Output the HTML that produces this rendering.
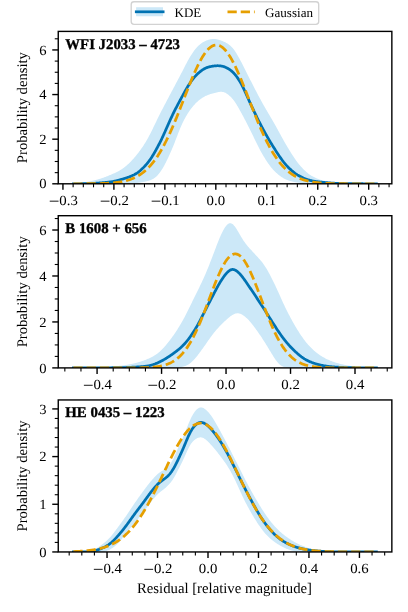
<!DOCTYPE html>
<html><head><meta charset="utf-8"><title>KDE vs Gaussian</title>
<style>html,body{margin:0;padding:0;background:#fff;}body{width:408px;height:612px;overflow:hidden;font-family:"Liberation Serif",serif;}svg text{font-family:"Liberation Serif",serif;}</style></head>
<body>
<svg width="408" height="612" viewBox="0 0 408 612" style="display:block;will-change:transform">
<rect width="408" height="612" fill="#fff"/>
<defs>
<clipPath id="c0"><rect x="58.25" y="31.4" width="333.6" height="152.40"/></clipPath>
<clipPath id="c1"><rect x="58.25" y="215.7" width="333.6" height="152.20"/></clipPath>
<clipPath id="c2"><rect x="58.25" y="399.95" width="333.6" height="152.00"/></clipPath>
</defs>
<g clip-path="url(#c0)">
<path d="M73.40,183.69 L73.90,183.66 L74.40,183.64 L74.90,183.60 L75.40,183.57 L75.90,183.53 L76.40,183.48 L76.90,183.44 L77.40,183.39 L77.90,183.33 L78.40,183.28 L78.90,183.22 L79.40,183.16 L79.90,183.10 L80.40,183.03 L80.90,182.96 L81.40,182.89 L81.90,182.82 L82.40,182.75 L82.90,182.67 L83.40,182.59 L83.90,182.51 L84.40,182.42 L84.90,182.33 L85.40,182.24 L85.90,182.15 L86.40,182.06 L86.90,181.96 L87.40,181.87 L87.90,181.77 L88.40,181.66 L88.90,181.56 L89.40,181.46 L89.90,181.35 L90.40,181.25 L90.90,181.14 L91.40,181.03 L91.90,180.92 L92.40,180.80 L92.90,180.69 L93.40,180.57 L93.90,180.45 L94.40,180.33 L94.90,180.21 L95.40,180.08 L95.90,179.95 L96.40,179.82 L96.90,179.68 L97.40,179.55 L97.90,179.40 L98.40,179.26 L98.90,179.11 L99.40,178.96 L99.90,178.80 L100.40,178.65 L100.90,178.49 L101.40,178.32 L101.90,178.15 L102.40,177.98 L102.90,177.81 L103.40,177.63 L103.90,177.45 L104.40,177.27 L104.90,177.09 L105.40,176.90 L105.90,176.71 L106.40,176.52 L106.90,176.33 L107.40,176.13 L107.90,175.93 L108.40,175.73 L108.90,175.53 L109.40,175.33 L109.90,175.12 L110.40,174.91 L110.90,174.70 L111.40,174.49 L111.90,174.27 L112.40,174.06 L112.90,173.84 L113.40,173.62 L113.90,173.39 L114.40,173.16 L114.90,172.93 L115.40,172.69 L115.90,172.45 L116.40,172.21 L116.90,171.96 L117.40,171.71 L117.90,171.45 L118.40,171.18 L118.90,170.91 L119.40,170.63 L119.90,170.34 L120.40,170.05 L120.90,169.74 L121.40,169.43 L121.90,169.11 L122.40,168.77 L122.90,168.43 L123.40,168.08 L123.90,167.71 L124.40,167.33 L124.90,166.94 L125.40,166.54 L125.90,166.12 L126.40,165.70 L126.90,165.26 L127.40,164.81 L127.90,164.35 L128.40,163.88 L128.90,163.40 L129.40,162.92 L129.90,162.42 L130.40,161.91 L130.90,161.40 L131.40,160.88 L131.90,160.35 L132.40,159.82 L132.90,159.27 L133.40,158.72 L133.90,158.16 L134.40,157.59 L134.90,157.01 L135.40,156.42 L135.90,155.82 L136.40,155.22 L136.90,154.60 L137.40,153.97 L137.90,153.33 L138.40,152.69 L138.90,152.03 L139.40,151.36 L139.90,150.68 L140.40,150.00 L140.90,149.30 L141.40,148.59 L141.90,147.87 L142.40,147.13 L142.90,146.39 L143.40,145.64 L143.90,144.87 L144.40,144.08 L144.90,143.29 L145.40,142.48 L145.90,141.65 L146.40,140.80 L146.90,139.94 L147.40,139.06 L147.90,138.17 L148.40,137.25 L148.90,136.32 L149.40,135.37 L149.90,134.41 L150.40,133.43 L150.90,132.45 L151.40,131.45 L151.90,130.43 L152.40,129.42 L152.90,128.39 L153.40,127.36 L153.90,126.32 L154.40,125.28 L154.90,124.24 L155.40,123.20 L155.90,122.17 L156.40,121.13 L156.90,120.10 L157.40,119.07 L157.90,118.05 L158.40,117.04 L158.90,116.03 L159.40,115.03 L159.90,114.03 L160.40,113.05 L160.90,112.06 L161.40,111.09 L161.90,110.11 L162.40,109.14 L162.90,108.18 L163.40,107.22 L163.90,106.26 L164.40,105.30 L164.90,104.34 L165.40,103.39 L165.90,102.44 L166.40,101.49 L166.90,100.54 L167.40,99.59 L167.90,98.64 L168.40,97.69 L168.90,96.75 L169.40,95.80 L169.90,94.86 L170.40,93.92 L170.90,92.97 L171.40,92.03 L171.90,91.09 L172.40,90.15 L172.90,89.20 L173.40,88.26 L173.90,87.32 L174.40,86.38 L174.90,85.44 L175.40,84.50 L175.90,83.56 L176.40,82.61 L176.90,81.67 L177.40,80.73 L177.90,79.78 L178.40,78.83 L178.90,77.89 L179.40,76.94 L179.90,75.98 L180.40,75.03 L180.90,74.07 L181.40,73.11 L181.90,72.14 L182.40,71.17 L182.90,70.20 L183.40,69.22 L183.90,68.24 L184.40,67.26 L184.90,66.29 L185.40,65.31 L185.90,64.35 L186.40,63.39 L186.90,62.44 L187.40,61.51 L187.90,60.59 L188.40,59.69 L188.90,58.81 L189.40,57.95 L189.90,57.10 L190.40,56.28 L190.90,55.47 L191.40,54.69 L191.90,53.92 L192.40,53.17 L192.90,52.44 L193.40,51.73 L193.90,51.04 L194.40,50.37 L194.90,49.72 L195.40,49.09 L195.90,48.49 L196.40,47.91 L196.90,47.35 L197.40,46.81 L197.90,46.30 L198.40,45.81 L198.90,45.35 L199.40,44.90 L199.90,44.48 L200.40,44.07 L200.90,43.68 L201.40,43.31 L201.90,42.96 L202.40,42.62 L202.90,42.30 L203.40,42.00 L203.90,41.71 L204.40,41.44 L204.90,41.19 L205.40,40.95 L205.90,40.73 L206.40,40.52 L206.90,40.33 L207.40,40.15 L207.90,39.98 L208.40,39.83 L208.90,39.69 L209.40,39.56 L209.90,39.45 L210.40,39.34 L210.90,39.25 L211.40,39.17 L211.90,39.11 L212.40,39.06 L212.90,39.03 L213.40,39.01 L213.90,39.01 L214.40,39.03 L214.90,39.06 L215.40,39.10 L215.90,39.17 L216.40,39.24 L216.90,39.33 L217.40,39.44 L217.90,39.56 L218.40,39.68 L218.90,39.82 L219.40,39.97 L219.90,40.13 L220.40,40.29 L220.90,40.46 L221.40,40.64 L221.90,40.83 L222.40,41.02 L222.90,41.23 L223.40,41.44 L223.90,41.65 L224.40,41.88 L224.90,42.12 L225.40,42.37 L225.90,42.63 L226.40,42.91 L226.90,43.20 L227.40,43.50 L227.90,43.82 L228.40,44.16 L228.90,44.52 L229.40,44.90 L229.90,45.30 L230.40,45.73 L230.90,46.18 L231.40,46.67 L231.90,47.18 L232.40,47.73 L232.90,48.31 L233.40,48.93 L233.90,49.58 L234.40,50.27 L234.90,51.00 L235.40,51.76 L235.90,52.54 L236.40,53.35 L236.90,54.19 L237.40,55.05 L237.90,55.92 L238.40,56.80 L238.90,57.70 L239.40,58.61 L239.90,59.53 L240.40,60.46 L240.90,61.39 L241.40,62.33 L241.90,63.28 L242.40,64.24 L242.90,65.20 L243.40,66.18 L243.90,67.16 L244.40,68.15 L244.90,69.14 L245.40,70.14 L245.90,71.14 L246.40,72.14 L246.90,73.15 L247.40,74.15 L247.90,75.15 L248.40,76.15 L248.90,77.15 L249.40,78.15 L249.90,79.14 L250.40,80.13 L250.90,81.12 L251.40,82.10 L251.90,83.08 L252.40,84.06 L252.90,85.04 L253.40,86.01 L253.90,86.99 L254.40,87.96 L254.90,88.93 L255.40,89.89 L255.90,90.86 L256.40,91.82 L256.90,92.78 L257.40,93.73 L257.90,94.68 L258.40,95.63 L258.90,96.57 L259.40,97.50 L259.90,98.44 L260.40,99.36 L260.90,100.28 L261.40,101.19 L261.90,102.10 L262.40,103.00 L262.90,103.89 L263.40,104.78 L263.90,105.67 L264.40,106.54 L264.90,107.41 L265.40,108.28 L265.90,109.14 L266.40,110.00 L266.90,110.85 L267.40,111.70 L267.90,112.55 L268.40,113.40 L268.90,114.25 L269.40,115.09 L269.90,115.94 L270.40,116.79 L270.90,117.64 L271.40,118.49 L271.90,119.35 L272.40,120.21 L272.90,121.07 L273.40,121.94 L273.90,122.81 L274.40,123.69 L274.90,124.58 L275.40,125.46 L275.90,126.36 L276.40,127.26 L276.90,128.16 L277.40,129.07 L277.90,129.98 L278.40,130.90 L278.90,131.82 L279.40,132.73 L279.90,133.65 L280.40,134.57 L280.90,135.48 L281.40,136.40 L281.90,137.31 L282.40,138.21 L282.90,139.11 L283.40,140.01 L283.90,140.90 L284.40,141.78 L284.90,142.65 L285.40,143.52 L285.90,144.38 L286.40,145.23 L286.90,146.08 L287.40,146.92 L287.90,147.76 L288.40,148.59 L288.90,149.42 L289.40,150.24 L289.90,151.05 L290.40,151.87 L290.90,152.67 L291.40,153.47 L291.90,154.27 L292.40,155.05 L292.90,155.83 L293.40,156.60 L293.90,157.36 L294.40,158.10 L294.90,158.83 L295.40,159.55 L295.90,160.26 L296.40,160.95 L296.90,161.62 L297.40,162.28 L297.90,162.93 L298.40,163.56 L298.90,164.17 L299.40,164.77 L299.90,165.36 L300.40,165.93 L300.90,166.50 L301.40,167.05 L301.90,167.59 L302.40,168.12 L302.90,168.64 L303.40,169.15 L303.90,169.65 L304.40,170.14 L304.90,170.62 L305.40,171.09 L305.90,171.55 L306.40,171.99 L306.90,172.43 L307.40,172.85 L307.90,173.26 L308.40,173.65 L308.90,174.03 L309.40,174.39 L309.90,174.74 L310.40,175.08 L310.90,175.40 L311.40,175.71 L311.90,176.01 L312.40,176.29 L312.90,176.57 L313.40,176.83 L313.90,177.08 L314.40,177.33 L314.90,177.57 L315.40,177.80 L315.90,178.02 L316.40,178.24 L316.90,178.45 L317.40,178.65 L317.90,178.84 L318.40,179.03 L318.90,179.22 L319.40,179.40 L319.90,179.57 L320.40,179.73 L320.90,179.89 L321.40,180.04 L321.90,180.18 L322.40,180.32 L322.90,180.45 L323.40,180.58 L323.90,180.70 L324.40,180.81 L324.90,180.92 L325.40,181.03 L325.90,181.13 L326.40,181.23 L326.90,181.32 L327.40,181.41 L327.90,181.50 L328.40,181.58 L328.90,181.66 L329.40,181.74 L329.90,181.82 L330.40,181.89 L330.90,181.96 L331.40,182.03 L331.90,182.10 L332.40,182.16 L332.90,182.22 L333.40,182.29 L333.90,182.34 L334.40,182.40 L334.90,182.46 L335.40,182.51 L335.90,182.56 L336.40,182.61 L336.90,182.66 L337.40,182.71 L337.90,182.76 L338.40,182.81 L338.90,182.85 L339.40,182.90 L339.90,182.94 L340.40,182.99 L340.90,183.03 L341.40,183.07 L341.90,183.11 L342.40,183.15 L342.90,183.19 L343.40,183.23 L343.90,183.27 L344.40,183.30 L344.90,183.33 L345.40,183.36 L345.90,183.39 L346.40,183.42 L346.90,183.44 L347.40,183.47 L347.90,183.49 L348.40,183.51 L348.90,183.53 L349.40,183.54 L349.90,183.56 L350.40,183.57 L350.90,183.58 L351.40,183.59 L351.90,183.60 L352.40,183.61 L352.90,183.62 L353.40,183.63 L353.90,183.63 L354.40,183.64 L354.90,183.65 L355.40,183.65 L355.90,183.66 L356.40,183.67 L356.90,183.67 L357.40,183.68 L357.90,183.69 L358.40,183.69 L358.90,183.70 L359.40,183.70 L359.90,183.71 L360.40,183.71 L360.90,183.72 L361.40,183.72 L361.90,183.73 L362.40,183.73 L362.90,183.74 L363.40,183.74 L363.90,183.74 L364.40,183.75 L364.90,183.75 L365.40,183.76 L365.90,183.76 L366.40,183.76 L366.90,183.77 L367.40,183.77 L367.90,183.77 L368.40,183.77 L368.90,183.78 L369.40,183.78 L369.90,183.78 L370.40,183.78 L370.90,183.79 L371.40,183.79 L371.90,183.79 L372.40,183.79 L372.90,183.79 L373.40,183.79 L373.90,183.80 L374.40,183.80 L374.90,183.80 L375.40,183.80 L375.90,183.80 L376.40,183.80 L376.40,183.80 L375.90,183.80 L375.40,183.80 L374.90,183.80 L374.40,183.80 L373.90,183.80 L373.40,183.80 L372.90,183.80 L372.40,183.80 L371.90,183.80 L371.40,183.80 L370.90,183.80 L370.40,183.80 L369.90,183.80 L369.40,183.80 L368.90,183.80 L368.40,183.80 L367.90,183.80 L367.40,183.80 L366.90,183.80 L366.40,183.80 L365.90,183.80 L365.40,183.80 L364.90,183.80 L364.40,183.80 L363.90,183.80 L363.40,183.80 L362.90,183.80 L362.40,183.80 L361.90,183.80 L361.40,183.80 L360.90,183.80 L360.40,183.80 L359.90,183.80 L359.40,183.80 L358.90,183.80 L358.40,183.80 L357.90,183.80 L357.40,183.80 L356.90,183.80 L356.40,183.80 L355.90,183.80 L355.40,183.80 L354.90,183.80 L354.40,183.80 L353.90,183.80 L353.40,183.80 L352.90,183.80 L352.40,183.80 L351.90,183.80 L351.40,183.80 L350.90,183.80 L350.40,183.80 L349.90,183.80 L349.40,183.80 L348.90,183.80 L348.40,183.80 L347.90,183.80 L347.40,183.80 L346.90,183.80 L346.40,183.80 L345.90,183.80 L345.40,183.80 L344.90,183.80 L344.40,183.80 L343.90,183.80 L343.40,183.80 L342.90,183.80 L342.40,183.80 L341.90,183.80 L341.40,183.80 L340.90,183.80 L340.40,183.80 L339.90,183.80 L339.40,183.80 L338.90,183.80 L338.40,183.80 L337.90,183.80 L337.40,183.80 L336.90,183.80 L336.40,183.80 L335.90,183.80 L335.40,183.80 L334.90,183.80 L334.40,183.80 L333.90,183.80 L333.40,183.80 L332.90,183.80 L332.40,183.80 L331.90,183.80 L331.40,183.80 L330.90,183.80 L330.40,183.80 L329.90,183.80 L329.40,183.80 L328.90,183.80 L328.40,183.80 L327.90,183.80 L327.40,183.80 L326.90,183.80 L326.40,183.80 L325.90,183.80 L325.40,183.80 L324.90,183.80 L324.40,183.80 L323.90,183.80 L323.40,183.80 L322.90,183.80 L322.40,183.80 L321.90,183.80 L321.40,183.80 L320.90,183.80 L320.40,183.80 L319.90,183.80 L319.40,183.80 L318.90,183.80 L318.40,183.80 L317.90,183.80 L317.40,183.80 L316.90,183.80 L316.40,183.80 L315.90,183.80 L315.40,183.80 L314.90,183.80 L314.40,183.80 L313.90,183.79 L313.40,183.79 L312.90,183.79 L312.40,183.78 L311.90,183.77 L311.40,183.77 L310.90,183.76 L310.40,183.74 L309.90,183.73 L309.40,183.71 L308.90,183.69 L308.40,183.66 L307.90,183.64 L307.40,183.61 L306.90,183.58 L306.40,183.54 L305.90,183.51 L305.40,183.47 L304.90,183.43 L304.40,183.39 L303.90,183.34 L303.40,183.30 L302.90,183.25 L302.40,183.20 L301.90,183.15 L301.40,183.09 L300.90,183.04 L300.40,182.98 L299.90,182.92 L299.40,182.86 L298.90,182.79 L298.40,182.72 L297.90,182.65 L297.40,182.58 L296.90,182.50 L296.40,182.41 L295.90,182.32 L295.40,182.23 L294.90,182.13 L294.40,182.03 L293.90,181.92 L293.40,181.81 L292.90,181.69 L292.40,181.57 L291.90,181.44 L291.40,181.31 L290.90,181.17 L290.40,181.03 L289.90,180.88 L289.40,180.72 L288.90,180.56 L288.40,180.39 L287.90,180.21 L287.40,180.03 L286.90,179.83 L286.40,179.63 L285.90,179.41 L285.40,179.18 L284.90,178.94 L284.40,178.68 L283.90,178.42 L283.40,178.13 L282.90,177.84 L282.40,177.53 L281.90,177.21 L281.40,176.88 L280.90,176.53 L280.40,176.17 L279.90,175.80 L279.40,175.42 L278.90,175.03 L278.40,174.63 L277.90,174.22 L277.40,173.79 L276.90,173.36 L276.40,172.91 L275.90,172.46 L275.40,171.99 L274.90,171.51 L274.40,171.01 L273.90,170.49 L273.40,169.96 L272.90,169.42 L272.40,168.85 L271.90,168.27 L271.40,167.66 L270.90,167.04 L270.40,166.40 L269.90,165.74 L269.40,165.06 L268.90,164.37 L268.40,163.66 L267.90,162.94 L267.40,162.20 L266.90,161.45 L266.40,160.69 L265.90,159.92 L265.40,159.13 L264.90,158.33 L264.40,157.53 L263.90,156.71 L263.40,155.88 L262.90,155.04 L262.40,154.19 L261.90,153.32 L261.40,152.44 L260.90,151.55 L260.40,150.64 L259.90,149.71 L259.40,148.77 L258.90,147.81 L258.40,146.84 L257.90,145.85 L257.40,144.85 L256.90,143.84 L256.40,142.82 L255.90,141.80 L255.40,140.76 L254.90,139.73 L254.40,138.69 L253.90,137.65 L253.40,136.61 L252.90,135.58 L252.40,134.54 L251.90,133.52 L251.40,132.49 L250.90,131.48 L250.40,130.47 L249.90,129.46 L249.40,128.46 L248.90,127.46 L248.40,126.47 L247.90,125.48 L247.40,124.50 L246.90,123.52 L246.40,122.54 L245.90,121.57 L245.40,120.61 L244.90,119.65 L244.40,118.69 L243.90,117.74 L243.40,116.80 L242.90,115.87 L242.40,114.94 L241.90,114.02 L241.40,113.10 L240.90,112.19 L240.40,111.29 L239.90,110.39 L239.40,109.50 L238.90,108.61 L238.40,107.74 L237.90,106.87 L237.40,106.02 L236.90,105.18 L236.40,104.36 L235.90,103.56 L235.40,102.78 L234.90,102.03 L234.40,101.31 L233.90,100.62 L233.40,99.96 L232.90,99.33 L232.40,98.73 L231.90,98.16 L231.40,97.62 L230.90,97.10 L230.40,96.61 L229.90,96.13 L229.40,95.68 L228.90,95.25 L228.40,94.84 L227.90,94.45 L227.40,94.08 L226.90,93.73 L226.40,93.41 L225.90,93.12 L225.40,92.85 L224.90,92.61 L224.40,92.40 L223.90,92.22 L223.40,92.08 L222.90,91.96 L222.40,91.88 L221.90,91.82 L221.40,91.79 L220.90,91.79 L220.40,91.81 L219.90,91.85 L219.40,91.91 L218.90,91.99 L218.40,92.08 L217.90,92.17 L217.40,92.28 L216.90,92.39 L216.40,92.51 L215.90,92.63 L215.40,92.75 L214.90,92.88 L214.40,93.00 L213.90,93.13 L213.40,93.26 L212.90,93.40 L212.40,93.54 L211.90,93.68 L211.40,93.82 L210.90,93.97 L210.40,94.12 L209.90,94.28 L209.40,94.45 L208.90,94.63 L208.40,94.81 L207.90,95.00 L207.40,95.20 L206.90,95.41 L206.40,95.63 L205.90,95.87 L205.40,96.11 L204.90,96.37 L204.40,96.63 L203.90,96.91 L203.40,97.20 L202.90,97.51 L202.40,97.82 L201.90,98.15 L201.40,98.49 L200.90,98.84 L200.40,99.21 L199.90,99.58 L199.40,99.97 L198.90,100.37 L198.40,100.79 L197.90,101.22 L197.40,101.67 L196.90,102.13 L196.40,102.60 L195.90,103.10 L195.40,103.61 L194.90,104.13 L194.40,104.67 L193.90,105.23 L193.40,105.81 L192.90,106.40 L192.40,107.01 L191.90,107.63 L191.40,108.27 L190.90,108.93 L190.40,109.61 L189.90,110.30 L189.40,111.02 L188.90,111.75 L188.40,112.51 L187.90,113.29 L187.40,114.09 L186.90,114.91 L186.40,115.75 L185.90,116.62 L185.40,117.50 L184.90,118.42 L184.40,119.35 L183.90,120.31 L183.40,121.30 L182.90,122.32 L182.40,123.37 L181.90,124.44 L181.40,125.55 L180.90,126.69 L180.40,127.86 L179.90,129.06 L179.40,130.29 L178.90,131.54 L178.40,132.81 L177.90,134.09 L177.40,135.39 L176.90,136.70 L176.40,138.01 L175.90,139.31 L175.40,140.61 L174.90,141.90 L174.40,143.17 L173.90,144.42 L173.40,145.66 L172.90,146.88 L172.40,148.08 L171.90,149.27 L171.40,150.44 L170.90,151.59 L170.40,152.73 L169.90,153.86 L169.40,154.97 L168.90,156.07 L168.40,157.16 L167.90,158.24 L167.40,159.30 L166.90,160.34 L166.40,161.37 L165.90,162.38 L165.40,163.36 L164.90,164.33 L164.40,165.27 L163.90,166.18 L163.40,167.06 L162.90,167.92 L162.40,168.75 L161.90,169.54 L161.40,170.31 L160.90,171.05 L160.40,171.76 L159.90,172.43 L159.40,173.09 L158.90,173.71 L158.40,174.31 L157.90,174.88 L157.40,175.42 L156.90,175.94 L156.40,176.43 L155.90,176.89 L155.40,177.32 L154.90,177.72 L154.40,178.10 L153.90,178.44 L153.40,178.76 L152.90,179.05 L152.40,179.32 L151.90,179.57 L151.40,179.79 L150.90,180.00 L150.40,180.19 L149.90,180.37 L149.40,180.53 L148.90,180.69 L148.40,180.83 L147.90,180.97 L147.40,181.09 L146.90,181.22 L146.40,181.33 L145.90,181.44 L145.40,181.55 L144.90,181.66 L144.40,181.76 L143.90,181.86 L143.40,181.95 L142.90,182.04 L142.40,182.13 L141.90,182.22 L141.40,182.31 L140.90,182.39 L140.40,182.47 L139.90,182.55 L139.40,182.63 L138.90,182.70 L138.40,182.77 L137.90,182.84 L137.40,182.90 L136.90,182.96 L136.40,183.02 L135.90,183.07 L135.40,183.12 L134.90,183.17 L134.40,183.21 L133.90,183.26 L133.40,183.29 L132.90,183.33 L132.40,183.36 L131.90,183.40 L131.40,183.43 L130.90,183.45 L130.40,183.48 L129.90,183.51 L129.40,183.53 L128.90,183.56 L128.40,183.58 L127.90,183.60 L127.40,183.62 L126.90,183.64 L126.40,183.66 L125.90,183.67 L125.40,183.69 L124.90,183.71 L124.40,183.72 L123.90,183.73 L123.40,183.74 L122.90,183.75 L122.40,183.76 L121.90,183.77 L121.40,183.78 L120.90,183.78 L120.40,183.79 L119.90,183.79 L119.40,183.79 L118.90,183.80 L118.40,183.80 L117.90,183.80 L117.40,183.80 L116.90,183.80 L116.40,183.80 L115.90,183.80 L115.40,183.80 L114.90,183.80 L114.40,183.80 L113.90,183.80 L113.40,183.80 L112.90,183.80 L112.40,183.80 L111.90,183.80 L111.40,183.80 L110.90,183.80 L110.40,183.80 L109.90,183.80 L109.40,183.80 L108.90,183.80 L108.40,183.80 L107.90,183.80 L107.40,183.80 L106.90,183.80 L106.40,183.80 L105.90,183.80 L105.40,183.80 L104.90,183.80 L104.40,183.80 L103.90,183.80 L103.40,183.80 L102.90,183.80 L102.40,183.80 L101.90,183.80 L101.40,183.80 L100.90,183.80 L100.40,183.80 L99.90,183.80 L99.40,183.80 L98.90,183.80 L98.40,183.80 L97.90,183.80 L97.40,183.80 L96.90,183.80 L96.40,183.80 L95.90,183.80 L95.40,183.80 L94.90,183.80 L94.40,183.80 L93.90,183.80 L93.40,183.80 L92.90,183.80 L92.40,183.80 L91.90,183.80 L91.40,183.80 L90.90,183.80 L90.40,183.80 L89.90,183.80 L89.40,183.80 L88.90,183.80 L88.40,183.80 L87.90,183.80 L87.40,183.80 L86.90,183.80 L86.40,183.80 L85.90,183.80 L85.40,183.80 L84.90,183.80 L84.40,183.80 L83.90,183.80 L83.40,183.80 L82.90,183.80 L82.40,183.80 L81.90,183.80 L81.40,183.80 L80.90,183.80 L80.40,183.80 L79.90,183.80 L79.40,183.80 L78.90,183.80 L78.40,183.80 L77.90,183.80 L77.40,183.80 L76.90,183.80 L76.40,183.80 L75.90,183.80 L75.40,183.80 L74.90,183.80 L74.40,183.80 L73.90,183.80 L73.40,183.80Z" fill="#cce8f8"/>
<path d="M73.40,183.80 L73.90,183.80 L74.40,183.79 L74.90,183.79 L75.40,183.79 L75.90,183.79 L76.40,183.78 L76.90,183.78 L77.40,183.78 L77.90,183.77 L78.40,183.77 L78.90,183.76 L79.40,183.76 L79.90,183.75 L80.40,183.75 L80.90,183.74 L81.40,183.74 L81.90,183.73 L82.40,183.72 L82.90,183.71 L83.40,183.71 L83.90,183.70 L84.40,183.69 L84.90,183.68 L85.40,183.67 L85.90,183.66 L86.40,183.65 L86.90,183.64 L87.40,183.63 L87.90,183.62 L88.40,183.60 L88.90,183.59 L89.40,183.58 L89.90,183.56 L90.40,183.54 L90.90,183.52 L91.40,183.50 L91.90,183.48 L92.40,183.45 L92.90,183.42 L93.40,183.40 L93.90,183.37 L94.40,183.33 L94.90,183.30 L95.40,183.26 L95.90,183.23 L96.40,183.19 L96.90,183.15 L97.40,183.11 L97.90,183.08 L98.40,183.04 L98.90,183.00 L99.40,182.96 L99.90,182.92 L100.40,182.88 L100.90,182.84 L101.40,182.80 L101.90,182.76 L102.40,182.72 L102.90,182.68 L103.40,182.64 L103.90,182.60 L104.40,182.56 L104.90,182.52 L105.40,182.47 L105.90,182.43 L106.40,182.38 L106.90,182.33 L107.40,182.28 L107.90,182.22 L108.40,182.17 L108.90,182.11 L109.40,182.04 L109.90,181.98 L110.40,181.91 L110.90,181.83 L111.40,181.75 L111.90,181.67 L112.40,181.58 L112.90,181.49 L113.40,181.40 L113.90,181.30 L114.40,181.19 L114.90,181.08 L115.40,180.97 L115.90,180.86 L116.40,180.74 L116.90,180.62 L117.40,180.49 L117.90,180.36 L118.40,180.24 L118.90,180.10 L119.40,179.97 L119.90,179.83 L120.40,179.70 L120.90,179.56 L121.40,179.41 L121.90,179.27 L122.40,179.13 L122.90,178.98 L123.40,178.83 L123.90,178.69 L124.40,178.53 L124.90,178.38 L125.40,178.22 L125.90,178.06 L126.40,177.90 L126.90,177.74 L127.40,177.57 L127.90,177.39 L128.40,177.22 L128.90,177.03 L129.40,176.85 L129.90,176.65 L130.40,176.46 L130.90,176.25 L131.40,176.04 L131.90,175.82 L132.40,175.60 L132.90,175.36 L133.40,175.12 L133.90,174.87 L134.40,174.60 L134.90,174.33 L135.40,174.04 L135.90,173.74 L136.40,173.43 L136.90,173.11 L137.40,172.77 L137.90,172.41 L138.40,172.05 L138.90,171.66 L139.40,171.27 L139.90,170.86 L140.40,170.43 L140.90,170.00 L141.40,169.55 L141.90,169.08 L142.40,168.61 L142.90,168.12 L143.40,167.62 L143.90,167.11 L144.40,166.59 L144.90,166.05 L145.40,165.51 L145.90,164.95 L146.40,164.37 L146.90,163.78 L147.40,163.18 L147.90,162.56 L148.40,161.92 L148.90,161.26 L149.40,160.58 L149.90,159.88 L150.40,159.16 L150.90,158.43 L151.40,157.67 L151.90,156.89 L152.40,156.10 L152.90,155.29 L153.40,154.46 L153.90,153.61 L154.40,152.75 L154.90,151.88 L155.40,151.00 L155.90,150.10 L156.40,149.19 L156.90,148.27 L157.40,147.35 L157.90,146.41 L158.40,145.46 L158.90,144.50 L159.40,143.53 L159.90,142.55 L160.40,141.55 L160.90,140.54 L161.40,139.52 L161.90,138.48 L162.40,137.42 L162.90,136.35 L163.40,135.27 L163.90,134.17 L164.40,133.06 L164.90,131.94 L165.40,130.81 L165.90,129.68 L166.40,128.54 L166.90,127.40 L167.40,126.26 L167.90,125.12 L168.40,123.99 L168.90,122.86 L169.40,121.74 L169.90,120.63 L170.40,119.53 L170.90,118.44 L171.40,117.36 L171.90,116.30 L172.40,115.25 L172.90,114.22 L173.40,113.19 L173.90,112.18 L174.40,111.18 L174.90,110.19 L175.40,109.20 L175.90,108.23 L176.40,107.26 L176.90,106.31 L177.40,105.35 L177.90,104.41 L178.40,103.47 L178.90,102.53 L179.40,101.59 L179.90,100.66 L180.40,99.74 L180.90,98.81 L181.40,97.89 L181.90,96.96 L182.40,96.04 L182.90,95.12 L183.40,94.20 L183.90,93.29 L184.40,92.38 L184.90,91.47 L185.40,90.58 L185.90,89.69 L186.40,88.81 L186.90,87.95 L187.40,87.10 L187.90,86.27 L188.40,85.46 L188.90,84.67 L189.40,83.90 L189.90,83.15 L190.40,82.41 L190.90,81.70 L191.40,81.01 L191.90,80.34 L192.40,79.68 L192.90,79.04 L193.40,78.42 L193.90,77.82 L194.40,77.23 L194.90,76.66 L195.40,76.11 L195.90,75.57 L196.40,75.05 L196.90,74.55 L197.40,74.06 L197.90,73.59 L198.40,73.13 L198.90,72.69 L199.40,72.26 L199.90,71.84 L200.40,71.44 L200.90,71.05 L201.40,70.68 L201.90,70.31 L202.40,69.97 L202.90,69.63 L203.40,69.32 L203.90,69.02 L204.40,68.74 L204.90,68.47 L205.40,68.22 L205.90,68.00 L206.40,67.78 L206.90,67.59 L207.40,67.41 L207.90,67.25 L208.40,67.09 L208.90,66.95 L209.40,66.83 L209.90,66.71 L210.40,66.60 L210.90,66.49 L211.40,66.40 L211.90,66.31 L212.40,66.22 L212.90,66.14 L213.40,66.07 L213.90,66.00 L214.40,65.94 L214.90,65.89 L215.40,65.84 L215.90,65.80 L216.40,65.77 L216.90,65.75 L217.40,65.74 L217.90,65.74 L218.40,65.75 L218.90,65.77 L219.40,65.80 L219.90,65.85 L220.40,65.91 L220.90,65.98 L221.40,66.07 L221.90,66.17 L222.40,66.28 L222.90,66.40 L223.40,66.54 L223.90,66.69 L224.40,66.85 L224.90,67.03 L225.40,67.23 L225.90,67.44 L226.40,67.67 L226.90,67.92 L227.40,68.18 L227.90,68.46 L228.40,68.76 L228.90,69.07 L229.40,69.40 L229.90,69.75 L230.40,70.12 L230.90,70.50 L231.40,70.91 L231.90,71.34 L232.40,71.78 L232.90,72.26 L233.40,72.75 L233.90,73.28 L234.40,73.83 L234.90,74.40 L235.40,75.00 L235.90,75.63 L236.40,76.28 L236.90,76.95 L237.40,77.66 L237.90,78.38 L238.40,79.13 L238.90,79.91 L239.40,80.71 L239.90,81.54 L240.40,82.39 L240.90,83.28 L241.40,84.19 L241.90,85.13 L242.40,86.11 L242.90,87.10 L243.40,88.13 L243.90,89.18 L244.40,90.25 L244.90,91.33 L245.40,92.44 L245.90,93.55 L246.40,94.67 L246.90,95.79 L247.40,96.91 L247.90,98.04 L248.40,99.15 L248.90,100.27 L249.40,101.37 L249.90,102.47 L250.40,103.56 L250.90,104.64 L251.40,105.71 L251.90,106.78 L252.40,107.85 L252.90,108.91 L253.40,109.96 L253.90,111.01 L254.40,112.06 L254.90,113.10 L255.40,114.14 L255.90,115.17 L256.40,116.20 L256.90,117.23 L257.40,118.24 L257.90,119.25 L258.40,120.26 L258.90,121.25 L259.40,122.24 L259.90,123.22 L260.40,124.20 L260.90,125.16 L261.40,126.12 L261.90,127.07 L262.40,128.01 L262.90,128.94 L263.40,129.86 L263.90,130.78 L264.40,131.70 L264.90,132.60 L265.40,133.50 L265.90,134.39 L266.40,135.28 L266.90,136.16 L267.40,137.03 L267.90,137.89 L268.40,138.75 L268.90,139.61 L269.40,140.45 L269.90,141.29 L270.40,142.13 L270.90,142.95 L271.40,143.77 L271.90,144.59 L272.40,145.40 L272.90,146.20 L273.40,146.99 L273.90,147.78 L274.40,148.57 L274.90,149.35 L275.40,150.13 L275.90,150.91 L276.40,151.68 L276.90,152.44 L277.40,153.20 L277.90,153.96 L278.40,154.71 L278.90,155.46 L279.40,156.20 L279.90,156.93 L280.40,157.65 L280.90,158.37 L281.40,159.07 L281.90,159.76 L282.40,160.44 L282.90,161.10 L283.40,161.76 L283.90,162.39 L284.40,163.01 L284.90,163.62 L285.40,164.21 L285.90,164.79 L286.40,165.35 L286.90,165.89 L287.40,166.43 L287.90,166.95 L288.40,167.46 L288.90,167.95 L289.40,168.44 L289.90,168.92 L290.40,169.38 L290.90,169.84 L291.40,170.29 L291.90,170.73 L292.40,171.15 L292.90,171.57 L293.40,171.98 L293.90,172.38 L294.40,172.77 L294.90,173.15 L295.40,173.51 L295.90,173.87 L296.40,174.21 L296.90,174.54 L297.40,174.87 L297.90,175.18 L298.40,175.48 L298.90,175.77 L299.40,176.05 L299.90,176.32 L300.40,176.58 L300.90,176.84 L301.40,177.09 L301.90,177.33 L302.40,177.56 L302.90,177.79 L303.40,178.02 L303.90,178.23 L304.40,178.44 L304.90,178.65 L305.40,178.85 L305.90,179.04 L306.40,179.22 L306.90,179.40 L307.40,179.58 L307.90,179.74 L308.40,179.90 L308.90,180.05 L309.40,180.19 L309.90,180.33 L310.40,180.46 L310.90,180.58 L311.40,180.69 L311.90,180.80 L312.40,180.91 L312.90,181.00 L313.40,181.10 L313.90,181.18 L314.40,181.27 L314.90,181.35 L315.40,181.42 L315.90,181.50 L316.40,181.57 L316.90,181.64 L317.40,181.70 L317.90,181.76 L318.40,181.83 L318.90,181.88 L319.40,181.94 L319.90,182.00 L320.40,182.05 L320.90,182.10 L321.40,182.16 L321.90,182.21 L322.40,182.26 L322.90,182.31 L323.40,182.35 L323.90,182.40 L324.40,182.45 L324.90,182.50 L325.40,182.54 L325.90,182.59 L326.40,182.63 L326.90,182.68 L327.40,182.72 L327.90,182.76 L328.40,182.81 L328.90,182.85 L329.40,182.89 L329.90,182.93 L330.40,182.97 L330.90,183.01 L331.40,183.05 L331.90,183.08 L332.40,183.11 L332.90,183.15 L333.40,183.18 L333.90,183.20 L334.40,183.23 L334.90,183.25 L335.40,183.28 L335.90,183.30 L336.40,183.32 L336.90,183.33 L337.40,183.35 L337.90,183.36 L338.40,183.38 L338.90,183.39 L339.40,183.40 L339.90,183.41 L340.40,183.42 L340.90,183.43 L341.40,183.44 L341.90,183.45 L342.40,183.46 L342.90,183.47 L343.40,183.48 L343.90,183.49 L344.40,183.50 L344.90,183.51 L345.40,183.52 L345.90,183.53 L346.40,183.54 L346.90,183.54 L347.40,183.55 L347.90,183.56 L348.40,183.57 L348.90,183.58 L349.40,183.58 L349.90,183.59 L350.40,183.60 L350.90,183.61 L351.40,183.61 L351.90,183.62 L352.40,183.63 L352.90,183.64 L353.40,183.64 L353.90,183.65 L354.40,183.65 L354.90,183.66 L355.40,183.67 L355.90,183.67 L356.40,183.68 L356.90,183.68 L357.40,183.69 L357.90,183.70 L358.40,183.70 L358.90,183.71 L359.40,183.71 L359.90,183.72 L360.40,183.72 L360.90,183.73 L361.40,183.73 L361.90,183.73 L362.40,183.74 L362.90,183.74 L363.40,183.75 L363.90,183.75 L364.40,183.75 L364.90,183.76 L365.40,183.76 L365.90,183.76 L366.40,183.77 L366.90,183.77 L367.40,183.77 L367.90,183.77 L368.40,183.78 L368.90,183.78 L369.40,183.78 L369.90,183.78 L370.40,183.79 L370.90,183.79 L371.40,183.79 L371.90,183.79 L372.40,183.79 L372.90,183.79 L373.40,183.79 L373.90,183.80 L374.40,183.80 L374.90,183.80 L375.40,183.80 L375.90,183.80 L376.40,183.80" fill="none" stroke="#0072B2" stroke-width="2.75" stroke-linejoin="round" stroke-linecap="square"/>
<path d="M73.40,183.79 L73.90,183.79 L74.40,183.79 L74.90,183.79 L75.40,183.79 L75.90,183.79 L76.40,183.79 L76.90,183.78 L77.40,183.78 L77.90,183.78 L78.40,183.78 L78.90,183.78 L79.40,183.78 L79.90,183.78 L80.40,183.78 L80.90,183.77 L81.40,183.77 L81.90,183.77 L82.40,183.77 L82.90,183.77 L83.40,183.76 L83.90,183.76 L84.40,183.76 L84.90,183.76 L85.40,183.75 L85.90,183.75 L86.40,183.75 L86.90,183.74 L87.40,183.74 L87.90,183.74 L88.40,183.73 L88.90,183.73 L89.40,183.73 L89.90,183.72 L90.40,183.72 L90.90,183.71 L91.40,183.71 L91.90,183.70 L92.40,183.69 L92.90,183.69 L93.40,183.68 L93.90,183.67 L94.40,183.67 L94.90,183.66 L95.40,183.65 L95.90,183.64 L96.40,183.63 L96.90,183.62 L97.40,183.61 L97.90,183.60 L98.40,183.59 L98.90,183.58 L99.40,183.57 L99.90,183.55 L100.40,183.54 L100.90,183.53 L101.40,183.51 L101.90,183.49 L102.40,183.48 L102.90,183.46 L103.40,183.44 L103.90,183.42 L104.40,183.40 L104.90,183.38 L105.40,183.36 L105.90,183.33 L106.40,183.31 L106.90,183.28 L107.40,183.26 L107.90,183.23 L108.40,183.20 L108.90,183.17 L109.40,183.14 L109.90,183.10 L110.40,183.07 L110.90,183.03 L111.40,182.99 L111.90,182.95 L112.40,182.91 L112.90,182.86 L113.40,182.82 L113.90,182.77 L114.40,182.72 L114.90,182.66 L115.40,182.61 L115.90,182.55 L116.40,182.49 L116.90,182.43 L117.40,182.37 L117.90,182.30 L118.40,182.23 L118.90,182.15 L119.40,182.08 L119.90,182.00 L120.40,181.91 L120.90,181.83 L121.40,181.74 L121.90,181.65 L122.40,181.55 L122.90,181.45 L123.40,181.34 L123.90,181.23 L124.40,181.12 L124.90,181.00 L125.40,180.88 L125.90,180.76 L126.40,180.63 L126.90,180.49 L127.40,180.35 L127.90,180.20 L128.40,180.05 L128.90,179.90 L129.40,179.73 L129.90,179.57 L130.40,179.39 L130.90,179.21 L131.40,179.03 L131.90,178.83 L132.40,178.63 L132.90,178.43 L133.40,178.21 L133.90,177.99 L134.40,177.77 L134.90,177.53 L135.40,177.29 L135.90,177.04 L136.40,176.78 L136.90,176.52 L137.40,176.24 L137.90,175.96 L138.40,175.67 L138.90,175.37 L139.40,175.06 L139.90,174.74 L140.40,174.41 L140.90,174.07 L141.40,173.72 L141.90,173.37 L142.40,173.00 L142.90,172.62 L143.40,172.23 L143.90,171.83 L144.40,171.42 L144.90,171.00 L145.40,170.57 L145.90,170.12 L146.40,169.67 L146.90,169.20 L147.40,168.72 L147.90,168.23 L148.40,167.73 L148.90,167.21 L149.40,166.68 L149.90,166.14 L150.40,165.58 L150.90,165.02 L151.40,164.44 L151.90,163.84 L152.40,163.23 L152.90,162.61 L153.40,161.98 L153.90,161.33 L154.40,160.67 L154.90,159.99 L155.40,159.30 L155.90,158.60 L156.40,157.88 L156.90,157.15 L157.40,156.40 L157.90,155.64 L158.40,154.86 L158.90,154.07 L159.40,153.27 L159.90,152.45 L160.40,151.61 L160.90,150.77 L161.40,149.90 L161.90,149.03 L162.40,148.13 L162.90,147.23 L163.40,146.31 L163.90,145.37 L164.40,144.43 L164.90,143.46 L165.40,142.49 L165.90,141.50 L166.40,140.50 L166.90,139.48 L167.40,138.45 L167.90,137.41 L168.40,136.35 L168.90,135.28 L169.40,134.20 L169.90,133.11 L170.40,132.00 L170.90,130.88 L171.40,129.76 L171.90,128.62 L172.40,127.46 L172.90,126.30 L173.40,125.13 L173.90,123.95 L174.40,122.76 L174.90,121.56 L175.40,120.35 L175.90,119.13 L176.40,117.91 L176.90,116.68 L177.40,115.44 L177.90,114.19 L178.40,112.94 L178.90,111.68 L179.40,110.41 L179.90,109.15 L180.40,107.87 L180.90,106.60 L181.40,105.32 L181.90,104.04 L182.40,102.75 L182.90,101.47 L183.40,100.18 L183.90,98.90 L184.40,97.61 L184.90,96.32 L185.40,95.04 L185.90,93.76 L186.40,92.48 L186.90,91.21 L187.40,89.94 L187.90,88.67 L188.40,87.41 L188.90,86.15 L189.40,84.91 L189.90,83.67 L190.40,82.43 L190.90,81.21 L191.40,80.00 L191.90,78.79 L192.40,77.60 L192.90,76.42 L193.40,75.25 L193.90,74.09 L194.40,72.95 L194.90,71.82 L195.40,70.71 L195.90,69.61 L196.40,68.53 L196.90,67.47 L197.40,66.42 L197.90,65.39 L198.40,64.38 L198.90,63.39 L199.40,62.42 L199.90,61.47 L200.40,60.54 L200.90,59.64 L201.40,58.75 L201.90,57.89 L202.40,57.06 L202.90,56.24 L203.40,55.46 L203.90,54.69 L204.40,53.96 L204.90,53.25 L205.40,52.56 L205.90,51.91 L206.40,51.28 L206.90,50.68 L207.40,50.11 L207.90,49.56 L208.40,49.05 L208.90,48.56 L209.40,48.11 L209.90,47.69 L210.40,47.29 L210.90,46.93 L211.40,46.60 L211.90,46.30 L212.40,46.03 L212.90,45.79 L213.40,45.59 L213.90,45.41 L214.40,45.27 L214.90,45.16 L215.40,45.09 L215.90,45.04 L216.40,45.03 L216.90,45.05 L217.40,45.11 L217.90,45.19 L218.40,45.31 L218.90,45.46 L219.40,45.64 L219.90,45.86 L220.40,46.10 L220.90,46.38 L221.40,46.69 L221.90,47.03 L222.40,47.40 L222.90,47.80 L223.40,48.23 L223.90,48.70 L224.40,49.19 L224.90,49.71 L225.40,50.26 L225.90,50.84 L226.40,51.45 L226.90,52.09 L227.40,52.75 L227.90,53.44 L228.40,54.16 L228.90,54.91 L229.40,55.68 L229.90,56.47 L230.40,57.29 L230.90,58.13 L231.40,59.00 L231.90,59.89 L232.40,60.80 L232.90,61.74 L233.40,62.69 L233.90,63.67 L234.40,64.66 L234.90,65.68 L235.40,66.71 L235.90,67.76 L236.40,68.83 L236.90,69.92 L237.40,71.02 L237.90,72.14 L238.40,73.27 L238.90,74.42 L239.40,75.58 L239.90,76.75 L240.40,77.94 L240.90,79.13 L241.40,80.34 L241.90,81.56 L242.40,82.78 L242.90,84.02 L243.40,85.26 L243.90,86.51 L244.40,87.76 L244.90,89.03 L245.40,90.29 L245.90,91.57 L246.40,92.84 L246.90,94.12 L247.40,95.40 L247.90,96.69 L248.40,97.97 L248.90,99.26 L249.40,100.54 L249.90,101.83 L250.40,103.11 L250.90,104.40 L251.40,105.68 L251.90,106.96 L252.40,108.23 L252.90,109.50 L253.40,110.77 L253.90,112.03 L254.40,113.29 L254.90,114.54 L255.40,115.79 L255.90,117.02 L256.40,118.25 L256.90,119.48 L257.40,120.69 L257.90,121.90 L258.40,123.10 L258.90,124.28 L259.40,125.46 L259.90,126.63 L260.40,127.79 L260.90,128.94 L261.40,130.07 L261.90,131.20 L262.40,132.31 L262.90,133.42 L263.40,134.51 L263.90,135.58 L264.40,136.65 L264.90,137.70 L265.40,138.74 L265.90,139.77 L266.40,140.78 L266.90,141.78 L267.40,142.76 L267.90,143.74 L268.40,144.69 L268.90,145.64 L269.40,146.57 L269.90,147.49 L270.40,148.39 L270.90,149.27 L271.40,150.15 L271.90,151.01 L272.40,151.85 L272.90,152.68 L273.40,153.49 L273.90,154.29 L274.40,155.08 L274.90,155.85 L275.40,156.61 L275.90,157.35 L276.40,158.08 L276.90,158.80 L277.40,159.50 L277.90,160.18 L278.40,160.86 L278.90,161.51 L279.40,162.16 L279.90,162.79 L280.40,163.41 L280.90,164.01 L281.40,164.60 L281.90,165.18 L282.40,165.74 L282.90,166.29 L283.40,166.83 L283.90,167.36 L284.40,167.87 L284.90,168.37 L285.40,168.86 L285.90,169.33 L286.40,169.80 L286.90,170.25 L287.40,170.69 L287.90,171.12 L288.40,171.54 L288.90,171.95 L289.40,172.34 L289.90,172.73 L290.40,173.10 L290.90,173.47 L291.40,173.82 L291.90,174.17 L292.40,174.50 L292.90,174.83 L293.40,175.15 L293.90,175.45 L294.40,175.75 L294.90,176.04 L295.40,176.32 L295.90,176.59 L296.40,176.86 L296.90,177.11 L297.40,177.36 L297.90,177.60 L298.40,177.83 L298.90,178.06 L299.40,178.28 L299.90,178.49 L300.40,178.69 L300.90,178.89 L301.40,179.08 L301.90,179.26 L302.40,179.44 L302.90,179.61 L303.40,179.78 L303.90,179.94 L304.40,180.10 L304.90,180.25 L305.40,180.39 L305.90,180.53 L306.40,180.66 L306.90,180.79 L307.40,180.92 L307.90,181.04 L308.40,181.15 L308.90,181.27 L309.40,181.37 L309.90,181.48 L310.40,181.58 L310.90,181.67 L311.40,181.76 L311.90,181.85 L312.40,181.94 L312.90,182.02 L313.40,182.10 L313.90,182.17 L314.40,182.25 L314.90,182.32 L315.40,182.38 L315.90,182.45 L316.40,182.51 L316.90,182.57 L317.40,182.63 L317.90,182.68 L318.40,182.73 L318.90,182.78 L319.40,182.83 L319.90,182.88 L320.40,182.92 L320.90,182.96 L321.40,183.00 L321.90,183.04 L322.40,183.08 L322.90,183.11 L323.40,183.14 L323.90,183.18 L324.40,183.21 L324.90,183.24 L325.40,183.26 L325.90,183.29 L326.40,183.32 L326.90,183.34 L327.40,183.36 L327.90,183.39 L328.40,183.41 L328.90,183.43 L329.40,183.45 L329.90,183.46 L330.40,183.48 L330.90,183.50 L331.40,183.51 L331.90,183.53 L332.40,183.54 L332.90,183.56 L333.40,183.57 L333.90,183.58 L334.40,183.59 L334.90,183.60 L335.40,183.62 L335.90,183.63 L336.40,183.64 L336.90,183.64 L337.40,183.65 L337.90,183.66 L338.40,183.67 L338.90,183.68 L339.40,183.68 L339.90,183.69 L340.40,183.70 L340.90,183.70 L341.40,183.71 L341.90,183.71 L342.40,183.72 L342.90,183.72 L343.40,183.73 L343.90,183.73 L344.40,183.73 L344.90,183.74 L345.40,183.74 L345.90,183.75 L346.40,183.75 L346.90,183.75 L347.40,183.75 L347.90,183.76 L348.40,183.76 L348.90,183.76 L349.40,183.76 L349.90,183.77 L350.40,183.77 L350.90,183.77 L351.40,183.77 L351.90,183.77 L352.40,183.78 L352.90,183.78 L353.40,183.78 L353.90,183.78 L354.40,183.78 L354.90,183.78 L355.40,183.78 L355.90,183.78 L356.40,183.79 L356.90,183.79 L357.40,183.79 L357.90,183.79 L358.40,183.79 L358.90,183.79 L359.40,183.79 L359.90,183.79 L360.40,183.79 L360.90,183.79 L361.40,183.79 L361.90,183.79 L362.40,183.79 L362.90,183.79 L363.40,183.79 L363.90,183.79 L364.40,183.80 L364.90,183.80 L365.40,183.80 L365.90,183.80 L366.40,183.80 L366.90,183.80 L367.40,183.80 L367.90,183.80 L368.40,183.80 L368.90,183.80 L369.40,183.80 L369.90,183.80 L370.40,183.80 L370.90,183.80 L371.40,183.80 L371.90,183.80 L372.40,183.80 L372.90,183.80 L373.40,183.80 L373.90,183.80 L374.40,183.80 L374.90,183.80 L375.40,183.80 L375.90,183.80 L376.40,183.80" fill="none" stroke="#E69F00" stroke-width="2.75" stroke-dasharray="9.25 3.98" stroke-linejoin="round"/>
</g>
<g clip-path="url(#c1)">
<path d="M73.40,367.90 L73.90,367.89 L74.40,367.89 L74.90,367.89 L75.40,367.89 L75.90,367.89 L76.40,367.88 L76.90,367.88 L77.40,367.87 L77.90,367.87 L78.40,367.87 L78.90,367.86 L79.40,367.86 L79.90,367.85 L80.40,367.84 L80.90,367.84 L81.40,367.83 L81.90,367.82 L82.40,367.81 L82.90,367.81 L83.40,367.80 L83.90,367.79 L84.40,367.78 L84.90,367.77 L85.40,367.76 L85.90,367.75 L86.40,367.74 L86.90,367.73 L87.40,367.72 L87.90,367.71 L88.40,367.70 L88.90,367.69 L89.40,367.67 L89.90,367.66 L90.40,367.65 L90.90,367.63 L91.40,367.62 L91.90,367.60 L92.40,367.58 L92.90,367.56 L93.40,367.54 L93.90,367.52 L94.40,367.50 L94.90,367.48 L95.40,367.45 L95.90,367.43 L96.40,367.40 L96.90,367.38 L97.40,367.35 L97.90,367.32 L98.40,367.30 L98.90,367.27 L99.40,367.24 L99.90,367.22 L100.40,367.19 L100.90,367.16 L101.40,367.13 L101.90,367.11 L102.40,367.08 L102.90,367.05 L103.40,367.02 L103.90,367.00 L104.40,366.97 L104.90,366.94 L105.40,366.91 L105.90,366.88 L106.40,366.85 L106.90,366.82 L107.40,366.79 L107.90,366.76 L108.40,366.73 L108.90,366.70 L109.40,366.67 L109.90,366.64 L110.40,366.60 L110.90,366.57 L111.40,366.54 L111.90,366.50 L112.40,366.47 L112.90,366.43 L113.40,366.39 L113.90,366.35 L114.40,366.32 L114.90,366.28 L115.40,366.24 L115.90,366.19 L116.40,366.15 L116.90,366.11 L117.40,366.06 L117.90,366.02 L118.40,365.97 L118.90,365.92 L119.40,365.87 L119.90,365.82 L120.40,365.76 L120.90,365.70 L121.40,365.65 L121.90,365.58 L122.40,365.52 L122.90,365.45 L123.40,365.38 L123.90,365.31 L124.40,365.24 L124.90,365.16 L125.40,365.08 L125.90,365.00 L126.40,364.92 L126.90,364.83 L127.40,364.74 L127.90,364.65 L128.40,364.56 L128.90,364.47 L129.40,364.37 L129.90,364.28 L130.40,364.18 L130.90,364.07 L131.40,363.97 L131.90,363.86 L132.40,363.76 L132.90,363.65 L133.40,363.53 L133.90,363.42 L134.40,363.30 L134.90,363.18 L135.40,363.05 L135.90,362.93 L136.40,362.79 L136.90,362.66 L137.40,362.52 L137.90,362.38 L138.40,362.24 L138.90,362.09 L139.40,361.94 L139.90,361.79 L140.40,361.64 L140.90,361.48 L141.40,361.31 L141.90,361.15 L142.40,360.98 L142.90,360.80 L143.40,360.63 L143.90,360.45 L144.40,360.26 L144.90,360.08 L145.40,359.89 L145.90,359.69 L146.40,359.49 L146.90,359.29 L147.40,359.08 L147.90,358.87 L148.40,358.65 L148.90,358.42 L149.40,358.19 L149.90,357.96 L150.40,357.72 L150.90,357.47 L151.40,357.22 L151.90,356.96 L152.40,356.69 L152.90,356.42 L153.40,356.13 L153.90,355.85 L154.40,355.55 L154.90,355.24 L155.40,354.92 L155.90,354.60 L156.40,354.26 L156.90,353.91 L157.40,353.54 L157.90,353.16 L158.40,352.77 L158.90,352.37 L159.40,351.94 L159.90,351.50 L160.40,351.05 L160.90,350.58 L161.40,350.09 L161.90,349.59 L162.40,349.08 L162.90,348.55 L163.40,348.01 L163.90,347.45 L164.40,346.89 L164.90,346.31 L165.40,345.73 L165.90,345.14 L166.40,344.54 L166.90,343.93 L167.40,343.31 L167.90,342.69 L168.40,342.06 L168.90,341.43 L169.40,340.79 L169.90,340.14 L170.40,339.49 L170.90,338.82 L171.40,338.15 L171.90,337.47 L172.40,336.79 L172.90,336.09 L173.40,335.38 L173.90,334.66 L174.40,333.94 L174.90,333.20 L175.40,332.46 L175.90,331.70 L176.40,330.94 L176.90,330.16 L177.40,329.38 L177.90,328.59 L178.40,327.79 L178.90,326.98 L179.40,326.16 L179.90,325.33 L180.40,324.49 L180.90,323.65 L181.40,322.79 L181.90,321.92 L182.40,321.05 L182.90,320.16 L183.40,319.25 L183.90,318.34 L184.40,317.41 L184.90,316.47 L185.40,315.52 L185.90,314.56 L186.40,313.59 L186.90,312.60 L187.40,311.61 L187.90,310.61 L188.40,309.60 L188.90,308.58 L189.40,307.56 L189.90,306.53 L190.40,305.50 L190.90,304.47 L191.40,303.43 L191.90,302.40 L192.40,301.37 L192.90,300.34 L193.40,299.31 L193.90,298.28 L194.40,297.26 L194.90,296.24 L195.40,295.22 L195.90,294.21 L196.40,293.20 L196.90,292.19 L197.40,291.18 L197.90,290.17 L198.40,289.16 L198.90,288.15 L199.40,287.13 L199.90,286.11 L200.40,285.08 L200.90,284.04 L201.40,283.00 L201.90,281.94 L202.40,280.87 L202.90,279.79 L203.40,278.69 L203.90,277.57 L204.40,276.45 L204.90,275.30 L205.40,274.14 L205.90,272.97 L206.40,271.78 L206.90,270.57 L207.40,269.36 L207.90,268.13 L208.40,266.89 L208.90,265.64 L209.40,264.38 L209.90,263.11 L210.40,261.83 L210.90,260.55 L211.40,259.26 L211.90,257.96 L212.40,256.66 L212.90,255.34 L213.40,254.03 L213.90,252.70 L214.40,251.38 L214.90,250.04 L215.40,248.71 L215.90,247.39 L216.40,246.07 L216.90,244.75 L217.40,243.46 L217.90,242.18 L218.40,240.92 L218.90,239.68 L219.40,238.48 L219.90,237.30 L220.40,236.16 L220.90,235.04 L221.40,233.97 L221.90,232.93 L222.40,231.93 L222.90,230.98 L223.40,230.06 L223.90,229.19 L224.40,228.36 L224.90,227.58 L225.40,226.85 L225.90,226.17 L226.40,225.55 L226.90,224.99 L227.40,224.49 L227.90,224.06 L228.40,223.71 L228.90,223.44 L229.40,223.25 L229.90,223.15 L230.40,223.14 L230.90,223.21 L231.40,223.38 L231.90,223.63 L232.40,223.96 L232.90,224.37 L233.40,224.84 L233.90,225.38 L234.40,225.97 L234.90,226.61 L235.40,227.30 L235.90,228.03 L236.40,228.79 L236.90,229.58 L237.40,230.40 L237.90,231.24 L238.40,232.10 L238.90,232.96 L239.40,233.83 L239.90,234.70 L240.40,235.57 L240.90,236.42 L241.40,237.25 L241.90,238.07 L242.40,238.87 L242.90,239.65 L243.40,240.41 L243.90,241.15 L244.40,241.87 L244.90,242.57 L245.40,243.25 L245.90,243.91 L246.40,244.55 L246.90,245.18 L247.40,245.80 L247.90,246.40 L248.40,246.98 L248.90,247.56 L249.40,248.13 L249.90,248.69 L250.40,249.24 L250.90,249.79 L251.40,250.33 L251.90,250.87 L252.40,251.41 L252.90,251.95 L253.40,252.49 L253.90,253.03 L254.40,253.57 L254.90,254.11 L255.40,254.64 L255.90,255.18 L256.40,255.72 L256.90,256.26 L257.40,256.80 L257.90,257.35 L258.40,257.90 L258.90,258.45 L259.40,259.01 L259.90,259.58 L260.40,260.16 L260.90,260.75 L261.40,261.36 L261.90,261.98 L262.40,262.62 L262.90,263.28 L263.40,263.96 L263.90,264.66 L264.40,265.39 L264.90,266.13 L265.40,266.90 L265.90,267.70 L266.40,268.51 L266.90,269.35 L267.40,270.21 L267.90,271.08 L268.40,271.98 L268.90,272.89 L269.40,273.82 L269.90,274.76 L270.40,275.71 L270.90,276.67 L271.40,277.65 L271.90,278.64 L272.40,279.63 L272.90,280.64 L273.40,281.65 L273.90,282.68 L274.40,283.71 L274.90,284.76 L275.40,285.82 L275.90,286.89 L276.40,287.97 L276.90,289.06 L277.40,290.15 L277.90,291.26 L278.40,292.37 L278.90,293.49 L279.40,294.61 L279.90,295.73 L280.40,296.85 L280.90,297.97 L281.40,299.09 L281.90,300.20 L282.40,301.30 L282.90,302.39 L283.40,303.47 L283.90,304.54 L284.40,305.60 L284.90,306.65 L285.40,307.69 L285.90,308.71 L286.40,309.73 L286.90,310.73 L287.40,311.72 L287.90,312.70 L288.40,313.67 L288.90,314.64 L289.40,315.60 L289.90,316.54 L290.40,317.48 L290.90,318.42 L291.40,319.34 L291.90,320.26 L292.40,321.17 L292.90,322.07 L293.40,322.96 L293.90,323.84 L294.40,324.71 L294.90,325.57 L295.40,326.42 L295.90,327.26 L296.40,328.10 L296.90,328.92 L297.40,329.73 L297.90,330.53 L298.40,331.32 L298.90,332.11 L299.40,332.88 L299.90,333.65 L300.40,334.41 L300.90,335.15 L301.40,335.89 L301.90,336.62 L302.40,337.34 L302.90,338.05 L303.40,338.75 L303.90,339.43 L304.40,340.10 L304.90,340.76 L305.40,341.41 L305.90,342.04 L306.40,342.66 L306.90,343.26 L307.40,343.85 L307.90,344.43 L308.40,344.99 L308.90,345.54 L309.40,346.08 L309.90,346.60 L310.40,347.12 L310.90,347.62 L311.40,348.12 L311.90,348.60 L312.40,349.08 L312.90,349.54 L313.40,350.00 L313.90,350.45 L314.40,350.89 L314.90,351.32 L315.40,351.75 L315.90,352.16 L316.40,352.56 L316.90,352.96 L317.40,353.35 L317.90,353.72 L318.40,354.09 L318.90,354.45 L319.40,354.79 L319.90,355.13 L320.40,355.47 L320.90,355.79 L321.40,356.10 L321.90,356.41 L322.40,356.71 L322.90,357.00 L323.40,357.29 L323.90,357.57 L324.40,357.85 L324.90,358.12 L325.40,358.38 L325.90,358.64 L326.40,358.89 L326.90,359.13 L327.40,359.38 L327.90,359.61 L328.40,359.84 L328.90,360.06 L329.40,360.28 L329.90,360.49 L330.40,360.70 L330.90,360.90 L331.40,361.10 L331.90,361.29 L332.40,361.48 L332.90,361.66 L333.40,361.83 L333.90,362.00 L334.40,362.17 L334.90,362.33 L335.40,362.49 L335.90,362.64 L336.40,362.80 L336.90,362.94 L337.40,363.09 L337.90,363.23 L338.40,363.37 L338.90,363.50 L339.40,363.63 L339.90,363.76 L340.40,363.89 L340.90,364.01 L341.40,364.13 L341.90,364.25 L342.40,364.36 L342.90,364.47 L343.40,364.58 L343.90,364.69 L344.40,364.80 L344.90,364.90 L345.40,365.00 L345.90,365.10 L346.40,365.20 L346.90,365.30 L347.40,365.39 L347.90,365.49 L348.40,365.58 L348.90,365.67 L349.40,365.76 L349.90,365.85 L350.40,365.93 L350.90,366.02 L351.40,366.10 L351.90,366.18 L352.40,366.26 L352.90,366.33 L353.40,366.41 L353.90,366.48 L354.40,366.54 L354.90,366.61 L355.40,366.67 L355.90,366.73 L356.40,366.79 L356.90,366.84 L357.40,366.89 L357.90,366.94 L358.40,366.99 L358.90,367.03 L359.40,367.07 L359.90,367.11 L360.40,367.15 L360.90,367.18 L361.40,367.22 L361.90,367.25 L362.40,367.28 L362.90,367.31 L363.40,367.34 L363.90,367.37 L364.40,367.40 L364.90,367.43 L365.40,367.45 L365.90,367.48 L366.40,367.50 L366.90,367.53 L367.40,367.55 L367.90,367.57 L368.40,367.60 L368.90,367.62 L369.40,367.64 L369.90,367.66 L370.40,367.68 L370.90,367.70 L371.40,367.72 L371.90,367.74 L372.40,367.75 L372.90,367.77 L373.40,367.79 L373.90,367.80 L374.40,367.81 L374.90,367.83 L375.40,367.84 L375.90,367.85 L376.40,367.86 L376.40,367.90 L375.90,367.90 L375.40,367.90 L374.90,367.90 L374.40,367.90 L373.90,367.90 L373.40,367.90 L372.90,367.90 L372.40,367.90 L371.90,367.90 L371.40,367.90 L370.90,367.90 L370.40,367.90 L369.90,367.90 L369.40,367.90 L368.90,367.90 L368.40,367.90 L367.90,367.90 L367.40,367.90 L366.90,367.90 L366.40,367.90 L365.90,367.90 L365.40,367.90 L364.90,367.90 L364.40,367.90 L363.90,367.90 L363.40,367.90 L362.90,367.90 L362.40,367.90 L361.90,367.90 L361.40,367.90 L360.90,367.90 L360.40,367.90 L359.90,367.90 L359.40,367.90 L358.90,367.90 L358.40,367.90 L357.90,367.90 L357.40,367.90 L356.90,367.90 L356.40,367.90 L355.90,367.90 L355.40,367.90 L354.90,367.90 L354.40,367.90 L353.90,367.90 L353.40,367.90 L352.90,367.90 L352.40,367.90 L351.90,367.90 L351.40,367.90 L350.90,367.90 L350.40,367.90 L349.90,367.90 L349.40,367.90 L348.90,367.90 L348.40,367.90 L347.90,367.90 L347.40,367.90 L346.90,367.90 L346.40,367.90 L345.90,367.90 L345.40,367.90 L344.90,367.90 L344.40,367.90 L343.90,367.90 L343.40,367.90 L342.90,367.90 L342.40,367.90 L341.90,367.90 L341.40,367.90 L340.90,367.90 L340.40,367.90 L339.90,367.90 L339.40,367.90 L338.90,367.90 L338.40,367.90 L337.90,367.90 L337.40,367.90 L336.90,367.90 L336.40,367.90 L335.90,367.90 L335.40,367.90 L334.90,367.90 L334.40,367.90 L333.90,367.90 L333.40,367.90 L332.90,367.90 L332.40,367.90 L331.90,367.90 L331.40,367.90 L330.90,367.90 L330.40,367.90 L329.90,367.90 L329.40,367.90 L328.90,367.90 L328.40,367.90 L327.90,367.90 L327.40,367.90 L326.90,367.90 L326.40,367.90 L325.90,367.90 L325.40,367.90 L324.90,367.90 L324.40,367.90 L323.90,367.90 L323.40,367.90 L322.90,367.90 L322.40,367.90 L321.90,367.90 L321.40,367.90 L320.90,367.90 L320.40,367.90 L319.90,367.90 L319.40,367.90 L318.90,367.90 L318.40,367.90 L317.90,367.90 L317.40,367.90 L316.90,367.90 L316.40,367.90 L315.90,367.90 L315.40,367.90 L314.90,367.90 L314.40,367.90 L313.90,367.90 L313.40,367.90 L312.90,367.90 L312.40,367.90 L311.90,367.90 L311.40,367.90 L310.90,367.90 L310.40,367.90 L309.90,367.90 L309.40,367.90 L308.90,367.90 L308.40,367.90 L307.90,367.90 L307.40,367.90 L306.90,367.90 L306.40,367.90 L305.90,367.90 L305.40,367.90 L304.90,367.90 L304.40,367.90 L303.90,367.90 L303.40,367.90 L302.90,367.90 L302.40,367.90 L301.90,367.90 L301.40,367.90 L300.90,367.90 L300.40,367.90 L299.90,367.90 L299.40,367.90 L298.90,367.90 L298.40,367.90 L297.90,367.90 L297.40,367.90 L296.90,367.90 L296.40,367.90 L295.90,367.90 L295.40,367.90 L294.90,367.90 L294.40,367.90 L293.90,367.90 L293.40,367.90 L292.90,367.89 L292.40,367.89 L291.90,367.88 L291.40,367.87 L290.90,367.86 L290.40,367.85 L289.90,367.82 L289.40,367.80 L288.90,367.77 L288.40,367.72 L287.90,367.68 L287.40,367.62 L286.90,367.55 L286.40,367.48 L285.90,367.39 L285.40,367.29 L284.90,367.17 L284.40,367.04 L283.90,366.90 L283.40,366.73 L282.90,366.54 L282.40,366.32 L281.90,366.07 L281.40,365.79 L280.90,365.47 L280.40,365.11 L279.90,364.71 L279.40,364.27 L278.90,363.78 L278.40,363.26 L277.90,362.70 L277.40,362.11 L276.90,361.48 L276.40,360.82 L275.90,360.13 L275.40,359.42 L274.90,358.69 L274.40,357.94 L273.90,357.18 L273.40,356.40 L272.90,355.61 L272.40,354.81 L271.90,354.00 L271.40,353.19 L270.90,352.37 L270.40,351.55 L269.90,350.73 L269.40,349.90 L268.90,349.08 L268.40,348.25 L267.90,347.42 L267.40,346.60 L266.90,345.78 L266.40,344.96 L265.90,344.15 L265.40,343.35 L264.90,342.55 L264.40,341.75 L263.90,340.96 L263.40,340.18 L262.90,339.41 L262.40,338.64 L261.90,337.87 L261.40,337.11 L260.90,336.36 L260.40,335.62 L259.90,334.88 L259.40,334.15 L258.90,333.42 L258.40,332.70 L257.90,331.99 L257.40,331.28 L256.90,330.58 L256.40,329.88 L255.90,329.19 L255.40,328.50 L254.90,327.82 L254.40,327.14 L253.90,326.47 L253.40,325.81 L252.90,325.16 L252.40,324.52 L251.90,323.88 L251.40,323.26 L250.90,322.66 L250.40,322.06 L249.90,321.48 L249.40,320.92 L248.90,320.37 L248.40,319.84 L247.90,319.32 L247.40,318.82 L246.90,318.34 L246.40,317.88 L245.90,317.43 L245.40,317.00 L244.90,316.59 L244.40,316.20 L243.90,315.83 L243.40,315.48 L242.90,315.16 L242.40,314.85 L241.90,314.57 L241.40,314.31 L240.90,314.08 L240.40,313.87 L239.90,313.70 L239.40,313.55 L238.90,313.43 L238.40,313.35 L237.90,313.31 L237.40,313.30 L236.90,313.32 L236.40,313.38 L235.90,313.48 L235.40,313.61 L234.90,313.77 L234.40,313.96 L233.90,314.18 L233.40,314.42 L232.90,314.69 L232.40,314.98 L231.90,315.30 L231.40,315.63 L230.90,315.99 L230.40,316.36 L229.90,316.75 L229.40,317.15 L228.90,317.56 L228.40,317.98 L227.90,318.41 L227.40,318.85 L226.90,319.29 L226.40,319.74 L225.90,320.20 L225.40,320.66 L224.90,321.12 L224.40,321.59 L223.90,322.06 L223.40,322.54 L222.90,323.02 L222.40,323.51 L221.90,324.00 L221.40,324.50 L220.90,325.01 L220.40,325.52 L219.90,326.04 L219.40,326.56 L218.90,327.09 L218.40,327.63 L217.90,328.17 L217.40,328.73 L216.90,329.29 L216.40,329.86 L215.90,330.44 L215.40,331.03 L214.90,331.63 L214.40,332.24 L213.90,332.86 L213.40,333.50 L212.90,334.14 L212.40,334.80 L211.90,335.46 L211.40,336.14 L210.90,336.83 L210.40,337.52 L209.90,338.22 L209.40,338.93 L208.90,339.64 L208.40,340.36 L207.90,341.08 L207.40,341.80 L206.90,342.52 L206.40,343.25 L205.90,343.97 L205.40,344.68 L204.90,345.40 L204.40,346.11 L203.90,346.82 L203.40,347.53 L202.90,348.23 L202.40,348.92 L201.90,349.62 L201.40,350.31 L200.90,350.99 L200.40,351.67 L199.90,352.35 L199.40,353.02 L198.90,353.69 L198.40,354.34 L197.90,354.99 L197.40,355.64 L196.90,356.27 L196.40,356.89 L195.90,357.50 L195.40,358.10 L194.90,358.69 L194.40,359.26 L193.90,359.81 L193.40,360.35 L192.90,360.87 L192.40,361.36 L191.90,361.83 L191.40,362.28 L190.90,362.70 L190.40,363.10 L189.90,363.47 L189.40,363.81 L188.90,364.14 L188.40,364.44 L187.90,364.72 L187.40,364.99 L186.90,365.24 L186.40,365.47 L185.90,365.69 L185.40,365.90 L184.90,366.09 L184.40,366.27 L183.90,366.44 L183.40,366.60 L182.90,366.74 L182.40,366.87 L181.90,366.98 L181.40,367.09 L180.90,367.18 L180.40,367.27 L179.90,367.34 L179.40,367.40 L178.90,367.46 L178.40,367.51 L177.90,367.56 L177.40,367.60 L176.90,367.64 L176.40,367.67 L175.90,367.70 L175.40,367.73 L174.90,367.75 L174.40,367.77 L173.90,367.79 L173.40,367.81 L172.90,367.83 L172.40,367.84 L171.90,367.85 L171.40,367.86 L170.90,367.87 L170.40,367.88 L169.90,367.88 L169.40,367.89 L168.90,367.89 L168.40,367.89 L167.90,367.90 L167.40,367.90 L166.90,367.90 L166.40,367.90 L165.90,367.90 L165.40,367.90 L164.90,367.90 L164.40,367.90 L163.90,367.90 L163.40,367.90 L162.90,367.90 L162.40,367.90 L161.90,367.90 L161.40,367.90 L160.90,367.90 L160.40,367.90 L159.90,367.90 L159.40,367.90 L158.90,367.90 L158.40,367.90 L157.90,367.90 L157.40,367.90 L156.90,367.90 L156.40,367.90 L155.90,367.90 L155.40,367.90 L154.90,367.90 L154.40,367.90 L153.90,367.90 L153.40,367.90 L152.90,367.90 L152.40,367.90 L151.90,367.90 L151.40,367.90 L150.90,367.90 L150.40,367.90 L149.90,367.90 L149.40,367.90 L148.90,367.90 L148.40,367.90 L147.90,367.90 L147.40,367.90 L146.90,367.90 L146.40,367.90 L145.90,367.90 L145.40,367.90 L144.90,367.90 L144.40,367.90 L143.90,367.90 L143.40,367.90 L142.90,367.90 L142.40,367.90 L141.90,367.90 L141.40,367.90 L140.90,367.90 L140.40,367.90 L139.90,367.90 L139.40,367.90 L138.90,367.90 L138.40,367.90 L137.90,367.90 L137.40,367.90 L136.90,367.90 L136.40,367.90 L135.90,367.90 L135.40,367.90 L134.90,367.90 L134.40,367.90 L133.90,367.90 L133.40,367.90 L132.90,367.90 L132.40,367.90 L131.90,367.90 L131.40,367.90 L130.90,367.90 L130.40,367.90 L129.90,367.90 L129.40,367.90 L128.90,367.90 L128.40,367.90 L127.90,367.90 L127.40,367.90 L126.90,367.90 L126.40,367.90 L125.90,367.90 L125.40,367.90 L124.90,367.90 L124.40,367.90 L123.90,367.90 L123.40,367.90 L122.90,367.90 L122.40,367.90 L121.90,367.90 L121.40,367.90 L120.90,367.90 L120.40,367.90 L119.90,367.90 L119.40,367.90 L118.90,367.90 L118.40,367.90 L117.90,367.90 L117.40,367.90 L116.90,367.90 L116.40,367.90 L115.90,367.90 L115.40,367.90 L114.90,367.90 L114.40,367.90 L113.90,367.90 L113.40,367.90 L112.90,367.90 L112.40,367.90 L111.90,367.90 L111.40,367.90 L110.90,367.90 L110.40,367.90 L109.90,367.90 L109.40,367.90 L108.90,367.90 L108.40,367.90 L107.90,367.90 L107.40,367.90 L106.90,367.90 L106.40,367.90 L105.90,367.90 L105.40,367.90 L104.90,367.90 L104.40,367.90 L103.90,367.90 L103.40,367.90 L102.90,367.90 L102.40,367.90 L101.90,367.90 L101.40,367.90 L100.90,367.90 L100.40,367.90 L99.90,367.90 L99.40,367.90 L98.90,367.90 L98.40,367.90 L97.90,367.90 L97.40,367.90 L96.90,367.90 L96.40,367.90 L95.90,367.90 L95.40,367.90 L94.90,367.90 L94.40,367.90 L93.90,367.90 L93.40,367.90 L92.90,367.90 L92.40,367.90 L91.90,367.90 L91.40,367.90 L90.90,367.90 L90.40,367.90 L89.90,367.90 L89.40,367.90 L88.90,367.90 L88.40,367.90 L87.90,367.90 L87.40,367.90 L86.90,367.90 L86.40,367.90 L85.90,367.90 L85.40,367.90 L84.90,367.90 L84.40,367.90 L83.90,367.90 L83.40,367.90 L82.90,367.90 L82.40,367.90 L81.90,367.90 L81.40,367.90 L80.90,367.90 L80.40,367.90 L79.90,367.90 L79.40,367.90 L78.90,367.90 L78.40,367.90 L77.90,367.90 L77.40,367.90 L76.90,367.90 L76.40,367.90 L75.90,367.90 L75.40,367.90 L74.90,367.90 L74.40,367.90 L73.90,367.90 L73.40,367.90Z" fill="#cce8f8"/>
<path d="M73.40,367.90 L73.90,367.90 L74.40,367.90 L74.90,367.90 L75.40,367.90 L75.90,367.90 L76.40,367.90 L76.90,367.90 L77.40,367.90 L77.90,367.90 L78.40,367.90 L78.90,367.90 L79.40,367.90 L79.90,367.89 L80.40,367.89 L80.90,367.89 L81.40,367.89 L81.90,367.89 L82.40,367.89 L82.90,367.89 L83.40,367.89 L83.90,367.89 L84.40,367.89 L84.90,367.89 L85.40,367.88 L85.90,367.88 L86.40,367.88 L86.90,367.88 L87.40,367.88 L87.90,367.88 L88.40,367.88 L88.90,367.87 L89.40,367.87 L89.90,367.87 L90.40,367.87 L90.90,367.87 L91.40,367.87 L91.90,367.86 L92.40,367.86 L92.90,367.86 L93.40,367.86 L93.90,367.86 L94.40,367.85 L94.90,367.85 L95.40,367.85 L95.90,367.85 L96.40,367.84 L96.90,367.84 L97.40,367.84 L97.90,367.84 L98.40,367.83 L98.90,367.83 L99.40,367.83 L99.90,367.83 L100.40,367.82 L100.90,367.82 L101.40,367.82 L101.90,367.81 L102.40,367.81 L102.90,367.81 L103.40,367.81 L103.90,367.80 L104.40,367.80 L104.90,367.80 L105.40,367.79 L105.90,367.79 L106.40,367.79 L106.90,367.78 L107.40,367.78 L107.90,367.77 L108.40,367.77 L108.90,367.77 L109.40,367.76 L109.90,367.76 L110.40,367.76 L110.90,367.75 L111.40,367.75 L111.90,367.74 L112.40,367.74 L112.90,367.74 L113.40,367.73 L113.90,367.73 L114.40,367.72 L114.90,367.72 L115.40,367.71 L115.90,367.71 L116.40,367.70 L116.90,367.70 L117.40,367.69 L117.90,367.69 L118.40,367.68 L118.90,367.68 L119.40,367.67 L119.90,367.66 L120.40,367.65 L120.90,367.64 L121.40,367.63 L121.90,367.62 L122.40,367.61 L122.90,367.60 L123.40,367.58 L123.90,367.57 L124.40,367.55 L124.90,367.54 L125.40,367.52 L125.90,367.50 L126.40,367.48 L126.90,367.46 L127.40,367.44 L127.90,367.42 L128.40,367.40 L128.90,367.37 L129.40,367.35 L129.90,367.33 L130.40,367.31 L130.90,367.28 L131.40,367.26 L131.90,367.24 L132.40,367.22 L132.90,367.19 L133.40,367.17 L133.90,367.15 L134.40,367.12 L134.90,367.10 L135.40,367.07 L135.90,367.05 L136.40,367.02 L136.90,366.99 L137.40,366.97 L137.90,366.94 L138.40,366.91 L138.90,366.88 L139.40,366.84 L139.90,366.81 L140.40,366.77 L140.90,366.73 L141.40,366.69 L141.90,366.65 L142.40,366.60 L142.90,366.56 L143.40,366.51 L143.90,366.45 L144.40,366.40 L144.90,366.34 L145.40,366.28 L145.90,366.21 L146.40,366.14 L146.90,366.07 L147.40,365.99 L147.90,365.91 L148.40,365.82 L148.90,365.73 L149.40,365.63 L149.90,365.52 L150.40,365.40 L150.90,365.28 L151.40,365.15 L151.90,365.01 L152.40,364.86 L152.90,364.70 L153.40,364.53 L153.90,364.36 L154.40,364.18 L154.90,363.99 L155.40,363.80 L155.90,363.59 L156.40,363.39 L156.90,363.18 L157.40,362.96 L157.90,362.74 L158.40,362.51 L158.90,362.28 L159.40,362.04 L159.90,361.79 L160.40,361.54 L160.90,361.29 L161.40,361.03 L161.90,360.76 L162.40,360.49 L162.90,360.22 L163.40,359.94 L163.90,359.65 L164.40,359.36 L164.90,359.06 L165.40,358.77 L165.90,358.46 L166.40,358.16 L166.90,357.85 L167.40,357.53 L167.90,357.21 L168.40,356.89 L168.90,356.56 L169.40,356.23 L169.90,355.89 L170.40,355.55 L170.90,355.21 L171.40,354.86 L171.90,354.51 L172.40,354.15 L172.90,353.79 L173.40,353.43 L173.90,353.06 L174.40,352.69 L174.90,352.32 L175.40,351.94 L175.90,351.57 L176.40,351.18 L176.90,350.80 L177.40,350.41 L177.90,350.01 L178.40,349.61 L178.90,349.20 L179.40,348.79 L179.90,348.36 L180.40,347.93 L180.90,347.49 L181.40,347.03 L181.90,346.56 L182.40,346.09 L182.90,345.59 L183.40,345.09 L183.90,344.57 L184.40,344.03 L184.90,343.48 L185.40,342.92 L185.90,342.34 L186.40,341.74 L186.90,341.14 L187.40,340.51 L187.90,339.88 L188.40,339.23 L188.90,338.57 L189.40,337.90 L189.90,337.21 L190.40,336.51 L190.90,335.81 L191.40,335.09 L191.90,334.36 L192.40,333.61 L192.90,332.86 L193.40,332.10 L193.90,331.32 L194.40,330.53 L194.90,329.72 L195.40,328.91 L195.90,328.07 L196.40,327.22 L196.90,326.36 L197.40,325.48 L197.90,324.58 L198.40,323.67 L198.90,322.75 L199.40,321.81 L199.90,320.86 L200.40,319.90 L200.90,318.93 L201.40,317.95 L201.90,316.97 L202.40,315.98 L202.90,314.99 L203.40,313.99 L203.90,313.00 L204.40,312.01 L204.90,311.01 L205.40,310.03 L205.90,309.04 L206.40,308.06 L206.90,307.08 L207.40,306.11 L207.90,305.14 L208.40,304.17 L208.90,303.21 L209.40,302.25 L209.90,301.29 L210.40,300.33 L210.90,299.38 L211.40,298.42 L211.90,297.46 L212.40,296.51 L212.90,295.55 L213.40,294.59 L213.90,293.63 L214.40,292.67 L214.90,291.71 L215.40,290.75 L215.90,289.80 L216.40,288.86 L216.90,287.92 L217.40,287.00 L217.90,286.09 L218.40,285.19 L218.90,284.31 L219.40,283.45 L219.90,282.60 L220.40,281.78 L220.90,280.97 L221.40,280.19 L221.90,279.42 L222.40,278.67 L222.90,277.93 L223.40,277.22 L223.90,276.53 L224.40,275.86 L224.90,275.20 L225.40,274.58 L225.90,273.97 L226.40,273.40 L226.90,272.85 L227.40,272.34 L227.90,271.86 L228.40,271.41 L228.90,271.01 L229.40,270.64 L229.90,270.32 L230.40,270.05 L230.90,269.83 L231.40,269.66 L231.90,269.54 L232.40,269.48 L232.90,269.47 L233.40,269.52 L233.90,269.62 L234.40,269.76 L234.90,269.96 L235.40,270.20 L235.90,270.48 L236.40,270.80 L236.90,271.16 L237.40,271.55 L237.90,271.97 L238.40,272.42 L238.90,272.90 L239.40,273.41 L239.90,273.95 L240.40,274.51 L240.90,275.09 L241.40,275.70 L241.90,276.32 L242.40,276.96 L242.90,277.61 L243.40,278.28 L243.90,278.97 L244.40,279.66 L244.90,280.36 L245.40,281.07 L245.90,281.79 L246.40,282.51 L246.90,283.23 L247.40,283.96 L247.90,284.69 L248.40,285.43 L248.90,286.16 L249.40,286.90 L249.90,287.63 L250.40,288.37 L250.90,289.11 L251.40,289.86 L251.90,290.60 L252.40,291.35 L252.90,292.10 L253.40,292.85 L253.90,293.60 L254.40,294.35 L254.90,295.10 L255.40,295.85 L255.90,296.61 L256.40,297.36 L256.90,298.12 L257.40,298.87 L257.90,299.63 L258.40,300.39 L258.90,301.14 L259.40,301.90 L259.90,302.66 L260.40,303.42 L260.90,304.18 L261.40,304.94 L261.90,305.70 L262.40,306.47 L262.90,307.24 L263.40,308.01 L263.90,308.78 L264.40,309.55 L264.90,310.33 L265.40,311.11 L265.90,311.89 L266.40,312.68 L266.90,313.46 L267.40,314.25 L267.90,315.04 L268.40,315.84 L268.90,316.63 L269.40,317.43 L269.90,318.22 L270.40,319.01 L270.90,319.81 L271.40,320.60 L271.90,321.39 L272.40,322.17 L272.90,322.96 L273.40,323.74 L273.90,324.52 L274.40,325.30 L274.90,326.07 L275.40,326.85 L275.90,327.61 L276.40,328.38 L276.90,329.14 L277.40,329.90 L277.90,330.65 L278.40,331.39 L278.90,332.13 L279.40,332.86 L279.90,333.58 L280.40,334.30 L280.90,335.00 L281.40,335.70 L281.90,336.39 L282.40,337.07 L282.90,337.74 L283.40,338.40 L283.90,339.05 L284.40,339.69 L284.90,340.33 L285.40,340.95 L285.90,341.57 L286.40,342.18 L286.90,342.78 L287.40,343.38 L287.90,343.96 L288.40,344.53 L288.90,345.10 L289.40,345.66 L289.90,346.20 L290.40,346.74 L290.90,347.27 L291.40,347.79 L291.90,348.30 L292.40,348.80 L292.90,349.30 L293.40,349.79 L293.90,350.27 L294.40,350.74 L294.90,351.21 L295.40,351.68 L295.90,352.14 L296.40,352.59 L296.90,353.04 L297.40,353.48 L297.90,353.92 L298.40,354.35 L298.90,354.77 L299.40,355.19 L299.90,355.60 L300.40,356.00 L300.90,356.39 L301.40,356.77 L301.90,357.13 L302.40,357.49 L302.90,357.83 L303.40,358.17 L303.90,358.49 L304.40,358.81 L304.90,359.11 L305.40,359.40 L305.90,359.69 L306.40,359.96 L306.90,360.23 L307.40,360.49 L307.90,360.74 L308.40,360.99 L308.90,361.23 L309.40,361.46 L309.90,361.68 L310.40,361.89 L310.90,362.10 L311.40,362.31 L311.90,362.50 L312.40,362.69 L312.90,362.88 L313.40,363.06 L313.90,363.23 L314.40,363.40 L314.90,363.56 L315.40,363.72 L315.90,363.87 L316.40,364.02 L316.90,364.17 L317.40,364.31 L317.90,364.44 L318.40,364.57 L318.90,364.69 L319.40,364.82 L319.90,364.93 L320.40,365.04 L320.90,365.15 L321.40,365.26 L321.90,365.36 L322.40,365.46 L322.90,365.55 L323.40,365.64 L323.90,365.73 L324.40,365.82 L324.90,365.90 L325.40,365.98 L325.90,366.05 L326.40,366.12 L326.90,366.19 L327.40,366.26 L327.90,366.32 L328.40,366.39 L328.90,366.44 L329.40,366.50 L329.90,366.56 L330.40,366.61 L330.90,366.66 L331.40,366.71 L331.90,366.75 L332.40,366.80 L332.90,366.84 L333.40,366.88 L333.90,366.92 L334.40,366.96 L334.90,367.00 L335.40,367.03 L335.90,367.07 L336.40,367.10 L336.90,367.13 L337.40,367.16 L337.90,367.19 L338.40,367.22 L338.90,367.25 L339.40,367.28 L339.90,367.30 L340.40,367.33 L340.90,367.35 L341.40,367.38 L341.90,367.40 L342.40,367.42 L342.90,367.44 L343.40,367.46 L343.90,367.48 L344.40,367.50 L344.90,367.52 L345.40,367.54 L345.90,367.56 L346.40,367.57 L346.90,367.59 L347.40,367.60 L347.90,367.61 L348.40,367.63 L348.90,367.64 L349.40,367.65 L349.90,367.66 L350.40,367.67 L350.90,367.68 L351.40,367.69 L351.90,367.70 L352.40,367.70 L352.90,367.71 L353.40,367.72 L353.90,367.72 L354.40,367.73 L354.90,367.74 L355.40,367.75 L355.90,367.75 L356.40,367.76 L356.90,367.76 L357.40,367.77 L357.90,367.78 L358.40,367.78 L358.90,367.79 L359.40,367.79 L359.90,367.80 L360.40,367.80 L360.90,367.81 L361.40,367.81 L361.90,367.82 L362.40,367.82 L362.90,367.83 L363.40,367.83 L363.90,367.84 L364.40,367.84 L364.90,367.85 L365.40,367.85 L365.90,367.85 L366.40,367.86 L366.90,367.86 L367.40,367.86 L367.90,367.87 L368.40,367.87 L368.90,367.87 L369.40,367.88 L369.90,367.88 L370.40,367.88 L370.90,367.88 L371.40,367.89 L371.90,367.89 L372.40,367.89 L372.90,367.89 L373.40,367.89 L373.90,367.89 L374.40,367.90 L374.90,367.90 L375.40,367.90 L375.90,367.90 L376.40,367.90" fill="none" stroke="#0072B2" stroke-width="2.75" stroke-linejoin="round" stroke-linecap="square"/>
<path d="M73.40,367.90 L73.90,367.90 L74.40,367.90 L74.90,367.90 L75.40,367.90 L75.90,367.90 L76.40,367.90 L76.90,367.90 L77.40,367.90 L77.90,367.90 L78.40,367.90 L78.90,367.90 L79.40,367.90 L79.90,367.90 L80.40,367.90 L80.90,367.90 L81.40,367.90 L81.90,367.90 L82.40,367.90 L82.90,367.90 L83.40,367.90 L83.90,367.90 L84.40,367.90 L84.90,367.90 L85.40,367.90 L85.90,367.90 L86.40,367.90 L86.90,367.90 L87.40,367.90 L87.90,367.90 L88.40,367.90 L88.90,367.90 L89.40,367.90 L89.90,367.90 L90.40,367.90 L90.90,367.90 L91.40,367.90 L91.90,367.90 L92.40,367.90 L92.90,367.90 L93.40,367.90 L93.90,367.90 L94.40,367.90 L94.90,367.90 L95.40,367.90 L95.90,367.90 L96.40,367.90 L96.90,367.90 L97.40,367.90 L97.90,367.90 L98.40,367.90 L98.90,367.90 L99.40,367.90 L99.90,367.90 L100.40,367.90 L100.90,367.90 L101.40,367.90 L101.90,367.90 L102.40,367.90 L102.90,367.90 L103.40,367.90 L103.90,367.90 L104.40,367.90 L104.90,367.90 L105.40,367.90 L105.90,367.90 L106.40,367.90 L106.90,367.90 L107.40,367.90 L107.90,367.90 L108.40,367.90 L108.90,367.90 L109.40,367.90 L109.90,367.90 L110.40,367.90 L110.90,367.90 L111.40,367.90 L111.90,367.90 L112.40,367.90 L112.90,367.90 L113.40,367.90 L113.90,367.90 L114.40,367.90 L114.90,367.90 L115.40,367.90 L115.90,367.90 L116.40,367.90 L116.90,367.90 L117.40,367.90 L117.90,367.90 L118.40,367.90 L118.90,367.90 L119.40,367.89 L119.90,367.89 L120.40,367.89 L120.90,367.89 L121.40,367.89 L121.90,367.89 L122.40,367.89 L122.90,367.89 L123.40,367.89 L123.90,367.89 L124.40,367.89 L124.90,367.89 L125.40,367.89 L125.90,367.88 L126.40,367.88 L126.90,367.88 L127.40,367.88 L127.90,367.88 L128.40,367.88 L128.90,367.87 L129.40,367.87 L129.90,367.87 L130.40,367.87 L130.90,367.87 L131.40,367.86 L131.90,367.86 L132.40,367.86 L132.90,367.85 L133.40,367.85 L133.90,367.85 L134.40,367.84 L134.90,367.84 L135.40,367.83 L135.90,367.83 L136.40,367.82 L136.90,367.81 L137.40,367.81 L137.90,367.80 L138.40,367.79 L138.90,367.79 L139.40,367.78 L139.90,367.77 L140.40,367.76 L140.90,367.75 L141.40,367.74 L141.90,367.73 L142.40,367.71 L142.90,367.70 L143.40,367.69 L143.90,367.67 L144.40,367.65 L144.90,367.64 L145.40,367.62 L145.90,367.60 L146.40,367.58 L146.90,367.56 L147.40,367.53 L147.90,367.51 L148.40,367.48 L148.90,367.46 L149.40,367.43 L149.90,367.39 L150.40,367.36 L150.90,367.33 L151.40,367.29 L151.90,367.25 L152.40,367.21 L152.90,367.16 L153.40,367.12 L153.90,367.07 L154.40,367.02 L154.90,366.96 L155.40,366.91 L155.90,366.85 L156.40,366.78 L156.90,366.71 L157.40,366.64 L157.90,366.57 L158.40,366.49 L158.90,366.41 L159.40,366.32 L159.90,366.23 L160.40,366.13 L160.90,366.03 L161.40,365.93 L161.90,365.82 L162.40,365.70 L162.90,365.58 L163.40,365.45 L163.90,365.31 L164.40,365.17 L164.90,365.03 L165.40,364.87 L165.90,364.71 L166.40,364.54 L166.90,364.37 L167.40,364.19 L167.90,363.99 L168.40,363.79 L168.90,363.58 L169.40,363.37 L169.90,363.14 L170.40,362.90 L170.90,362.66 L171.40,362.40 L171.90,362.14 L172.40,361.86 L172.90,361.57 L173.40,361.27 L173.90,360.96 L174.40,360.64 L174.90,360.30 L175.40,359.96 L175.90,359.60 L176.40,359.22 L176.90,358.84 L177.40,358.44 L177.90,358.02 L178.40,357.59 L178.90,357.15 L179.40,356.69 L179.90,356.22 L180.40,355.73 L180.90,355.23 L181.40,354.71 L181.90,354.17 L182.40,353.62 L182.90,353.05 L183.40,352.46 L183.90,351.85 L184.40,351.23 L184.90,350.59 L185.40,349.94 L185.90,349.26 L186.40,348.57 L186.90,347.86 L187.40,347.13 L187.90,346.38 L188.40,345.61 L188.90,344.82 L189.40,344.02 L189.90,343.19 L190.40,342.35 L190.90,341.49 L191.40,340.61 L191.90,339.71 L192.40,338.79 L192.90,337.85 L193.40,336.90 L193.90,335.92 L194.40,334.93 L194.90,333.92 L195.40,332.89 L195.90,331.85 L196.40,330.78 L196.90,329.70 L197.40,328.60 L197.90,327.49 L198.40,326.36 L198.90,325.21 L199.40,324.05 L199.90,322.87 L200.40,321.68 L200.90,320.48 L201.40,319.26 L201.90,318.03 L202.40,316.79 L202.90,315.53 L203.40,314.27 L203.90,312.99 L204.40,311.71 L204.90,310.41 L205.40,309.11 L205.90,307.80 L206.40,306.49 L206.90,305.17 L207.40,303.85 L207.90,302.52 L208.40,301.19 L208.90,299.85 L209.40,298.52 L209.90,297.19 L210.40,295.85 L210.90,294.53 L211.40,293.20 L211.90,291.88 L212.40,290.56 L212.90,289.25 L213.40,287.95 L213.90,286.65 L214.40,285.37 L214.90,284.09 L215.40,282.83 L215.90,281.58 L216.40,280.35 L216.90,279.13 L217.40,277.93 L217.90,276.74 L218.40,275.58 L218.90,274.43 L219.40,273.31 L219.90,272.20 L220.40,271.12 L220.90,270.07 L221.40,269.04 L221.90,268.03 L222.40,267.06 L222.90,266.11 L223.40,265.19 L223.90,264.30 L224.40,263.44 L224.90,262.62 L225.40,261.83 L225.90,261.07 L226.40,260.34 L226.90,259.65 L227.40,259.00 L227.90,258.38 L228.40,257.81 L228.90,257.27 L229.40,256.76 L229.90,256.30 L230.40,255.88 L230.90,255.50 L231.40,255.16 L231.90,254.85 L232.40,254.60 L232.90,254.38 L233.40,254.20 L233.90,254.07 L234.40,253.98 L234.90,253.93 L235.40,253.92 L235.90,253.96 L236.40,254.04 L236.90,254.16 L237.40,254.32 L237.90,254.52 L238.40,254.77 L238.90,255.06 L239.40,255.39 L239.90,255.76 L240.40,256.17 L240.90,256.62 L241.40,257.10 L241.90,257.63 L242.40,258.20 L242.90,258.80 L243.40,259.44 L243.90,260.12 L244.40,260.84 L244.90,261.58 L245.40,262.37 L245.90,263.18 L246.40,264.03 L246.90,264.91 L247.40,265.82 L247.90,266.76 L248.40,267.72 L248.90,268.72 L249.40,269.74 L249.90,270.79 L250.40,271.86 L250.90,272.96 L251.40,274.08 L251.90,275.22 L252.40,276.38 L252.90,277.55 L253.40,278.75 L253.90,279.97 L254.40,281.19 L254.90,282.44 L255.40,283.70 L255.90,284.97 L256.40,286.25 L256.90,287.54 L257.40,288.84 L257.90,290.15 L258.40,291.46 L258.90,292.78 L259.40,294.11 L259.90,295.44 L260.40,296.77 L260.90,298.10 L261.40,299.44 L261.90,300.77 L262.40,302.10 L262.90,303.43 L263.40,304.76 L263.90,306.08 L264.40,307.39 L264.90,308.70 L265.40,310.01 L265.90,311.30 L266.40,312.59 L266.90,313.87 L267.40,315.14 L267.90,316.39 L268.40,317.64 L268.90,318.88 L269.40,320.10 L269.90,321.31 L270.40,322.50 L270.90,323.68 L271.40,324.85 L271.90,326.00 L272.40,327.14 L272.90,328.26 L273.40,329.36 L273.90,330.44 L274.40,331.51 L274.90,332.57 L275.40,333.60 L275.90,334.62 L276.40,335.62 L276.90,336.60 L277.40,337.56 L277.90,338.50 L278.40,339.42 L278.90,340.33 L279.40,341.22 L279.90,342.08 L280.40,342.93 L280.90,343.76 L281.40,344.57 L281.90,345.37 L282.40,346.14 L282.90,346.89 L283.40,347.63 L283.90,348.35 L284.40,349.05 L284.90,349.73 L285.40,350.39 L285.90,351.03 L286.40,351.66 L286.90,352.27 L287.40,352.86 L287.90,353.44 L288.40,354.00 L288.90,354.54 L289.40,355.06 L289.90,355.57 L290.40,356.07 L290.90,356.55 L291.40,357.01 L291.90,357.46 L292.40,357.89 L292.90,358.31 L293.40,358.71 L293.90,359.10 L294.40,359.48 L294.90,359.85 L295.40,360.20 L295.90,360.54 L296.40,360.86 L296.90,361.18 L297.40,361.48 L297.90,361.77 L298.40,362.05 L298.90,362.32 L299.40,362.58 L299.90,362.83 L300.40,363.07 L300.90,363.30 L301.40,363.52 L301.90,363.73 L302.40,363.93 L302.90,364.13 L303.40,364.31 L303.90,364.49 L304.40,364.66 L304.90,364.82 L305.40,364.98 L305.90,365.13 L306.40,365.27 L306.90,365.41 L307.40,365.54 L307.90,365.66 L308.40,365.78 L308.90,365.89 L309.40,366.00 L309.90,366.10 L310.40,366.20 L310.90,366.29 L311.40,366.38 L311.90,366.46 L312.40,366.54 L312.90,366.62 L313.40,366.69 L313.90,366.76 L314.40,366.83 L314.90,366.89 L315.40,366.95 L315.90,367.00 L316.40,367.05 L316.90,367.10 L317.40,367.15 L317.90,367.20 L318.40,367.24 L318.90,367.28 L319.40,367.32 L319.90,367.35 L320.40,367.38 L320.90,367.42 L321.40,367.45 L321.90,367.47 L322.40,367.50 L322.90,367.53 L323.40,367.55 L323.90,367.57 L324.40,367.59 L324.90,367.61 L325.40,367.63 L325.90,367.65 L326.40,367.67 L326.90,367.68 L327.40,367.70 L327.90,367.71 L328.40,367.72 L328.90,367.73 L329.40,367.74 L329.90,367.76 L330.40,367.77 L330.90,367.77 L331.40,367.78 L331.90,367.79 L332.40,367.80 L332.90,367.81 L333.40,367.81 L333.90,367.82 L334.40,367.82 L334.90,367.83 L335.40,367.83 L335.90,367.84 L336.40,367.84 L336.90,367.85 L337.40,367.85 L337.90,367.86 L338.40,367.86 L338.90,367.86 L339.40,367.86 L339.90,367.87 L340.40,367.87 L340.90,367.87 L341.40,367.87 L341.90,367.88 L342.40,367.88 L342.90,367.88 L343.40,367.88 L343.90,367.88 L344.40,367.88 L344.90,367.89 L345.40,367.89 L345.90,367.89 L346.40,367.89 L346.90,367.89 L347.40,367.89 L347.90,367.89 L348.40,367.89 L348.90,367.89 L349.40,367.89 L349.90,367.89 L350.40,367.89 L350.90,367.89 L351.40,367.90 L351.90,367.90 L352.40,367.90 L352.90,367.90 L353.40,367.90 L353.90,367.90 L354.40,367.90 L354.90,367.90 L355.40,367.90 L355.90,367.90 L356.40,367.90 L356.90,367.90 L357.40,367.90 L357.90,367.90 L358.40,367.90 L358.90,367.90 L359.40,367.90 L359.90,367.90 L360.40,367.90 L360.90,367.90 L361.40,367.90 L361.90,367.90 L362.40,367.90 L362.90,367.90 L363.40,367.90 L363.90,367.90 L364.40,367.90 L364.90,367.90 L365.40,367.90 L365.90,367.90 L366.40,367.90 L366.90,367.90 L367.40,367.90 L367.90,367.90 L368.40,367.90 L368.90,367.90 L369.40,367.90 L369.90,367.90 L370.40,367.90 L370.90,367.90 L371.40,367.90 L371.90,367.90 L372.40,367.90 L372.90,367.90 L373.40,367.90 L373.90,367.90 L374.40,367.90 L374.90,367.90 L375.40,367.90 L375.90,367.90 L376.40,367.90" fill="none" stroke="#E69F00" stroke-width="2.75" stroke-dasharray="9.25 3.98" stroke-linejoin="round"/>
</g>
<g clip-path="url(#c2)">
<path d="M73.40,551.95 L73.90,551.95 L74.40,551.95 L74.90,551.95 L75.40,551.95 L75.90,551.95 L76.40,551.95 L76.90,551.95 L77.40,551.95 L77.90,551.95 L78.40,551.95 L78.90,551.95 L79.40,551.95 L79.90,551.95 L80.40,551.95 L80.90,551.95 L81.40,551.94 L81.90,551.94 L82.40,551.93 L82.90,551.93 L83.40,551.91 L83.90,551.90 L84.40,551.87 L84.90,551.85 L85.40,551.81 L85.90,551.76 L86.40,551.71 L86.90,551.64 L87.40,551.57 L87.90,551.48 L88.40,551.38 L88.90,551.28 L89.40,551.16 L89.90,551.03 L90.40,550.89 L90.90,550.74 L91.40,550.58 L91.90,550.41 L92.40,550.23 L92.90,550.04 L93.40,549.84 L93.90,549.63 L94.40,549.40 L94.90,549.16 L95.40,548.90 L95.90,548.63 L96.40,548.35 L96.90,548.06 L97.40,547.75 L97.90,547.43 L98.40,547.10 L98.90,546.77 L99.40,546.42 L99.90,546.07 L100.40,545.71 L100.90,545.35 L101.40,544.98 L101.90,544.60 L102.40,544.23 L102.90,543.84 L103.40,543.45 L103.90,543.05 L104.40,542.65 L104.90,542.24 L105.40,541.82 L105.90,541.39 L106.40,540.95 L106.90,540.50 L107.40,540.04 L107.90,539.56 L108.40,539.08 L108.90,538.57 L109.40,538.06 L109.90,537.52 L110.40,536.98 L110.90,536.41 L111.40,535.83 L111.90,535.23 L112.40,534.62 L112.90,533.99 L113.40,533.35 L113.90,532.70 L114.40,532.03 L114.90,531.36 L115.40,530.69 L115.90,530.01 L116.40,529.32 L116.90,528.64 L117.40,527.95 L117.90,527.26 L118.40,526.57 L118.90,525.89 L119.40,525.20 L119.90,524.52 L120.40,523.83 L120.90,523.15 L121.40,522.46 L121.90,521.77 L122.40,521.08 L122.90,520.39 L123.40,519.70 L123.90,519.00 L124.40,518.30 L124.90,517.60 L125.40,516.89 L125.90,516.17 L126.40,515.45 L126.90,514.73 L127.40,514.00 L127.90,513.27 L128.40,512.53 L128.90,511.79 L129.40,511.05 L129.90,510.30 L130.40,509.55 L130.90,508.80 L131.40,508.05 L131.90,507.30 L132.40,506.55 L132.90,505.81 L133.40,505.06 L133.90,504.32 L134.40,503.59 L134.90,502.85 L135.40,502.12 L135.90,501.39 L136.40,500.67 L136.90,499.95 L137.40,499.24 L137.90,498.52 L138.40,497.82 L138.90,497.11 L139.40,496.41 L139.90,495.71 L140.40,495.02 L140.90,494.32 L141.40,493.63 L141.90,492.95 L142.40,492.26 L142.90,491.58 L143.40,490.91 L143.90,490.23 L144.40,489.56 L144.90,488.89 L145.40,488.23 L145.90,487.56 L146.40,486.91 L146.90,486.25 L147.40,485.61 L147.90,484.97 L148.40,484.33 L148.90,483.70 L149.40,483.08 L149.90,482.47 L150.40,481.86 L150.90,481.26 L151.40,480.67 L151.90,480.09 L152.40,479.51 L152.90,478.94 L153.40,478.38 L153.90,477.83 L154.40,477.29 L154.90,476.75 L155.40,476.23 L155.90,475.73 L156.40,475.24 L156.90,474.76 L157.40,474.30 L157.90,473.87 L158.40,473.45 L158.90,473.05 L159.40,472.68 L159.90,472.32 L160.40,471.98 L160.90,471.66 L161.40,471.35 L161.90,471.06 L162.40,470.76 L162.90,470.47 L163.40,470.18 L163.90,469.88 L164.40,469.57 L164.90,469.24 L165.40,468.90 L165.90,468.53 L166.40,468.13 L166.90,467.71 L167.40,467.25 L167.90,466.76 L168.40,466.24 L168.90,465.67 L169.40,465.06 L169.90,464.41 L170.40,463.71 L170.90,462.96 L171.40,462.16 L171.90,461.31 L172.40,460.41 L172.90,459.47 L173.40,458.47 L173.90,457.44 L174.40,456.37 L174.90,455.27 L175.40,454.15 L175.90,453.01 L176.40,451.87 L176.90,450.74 L177.40,449.60 L177.90,448.48 L178.40,447.37 L178.90,446.26 L179.40,445.17 L179.90,444.09 L180.40,443.00 L180.90,441.92 L181.40,440.83 L181.90,439.73 L182.40,438.62 L182.90,437.49 L183.40,436.34 L183.90,435.17 L184.40,433.97 L184.90,432.76 L185.40,431.52 L185.90,430.27 L186.40,429.01 L186.90,427.75 L187.40,426.49 L187.90,425.24 L188.40,424.01 L188.90,422.81 L189.40,421.63 L189.90,420.49 L190.40,419.40 L190.90,418.34 L191.40,417.33 L191.90,416.37 L192.40,415.45 L192.90,414.58 L193.40,413.76 L193.90,412.99 L194.40,412.26 L194.90,411.58 L195.40,410.95 L195.90,410.36 L196.40,409.82 L196.90,409.33 L197.40,408.89 L197.90,408.50 L198.40,408.17 L198.90,407.90 L199.40,407.68 L199.90,407.53 L200.40,407.44 L200.90,407.41 L201.40,407.44 L201.90,407.53 L202.40,407.67 L202.90,407.86 L203.40,408.10 L203.90,408.37 L204.40,408.69 L204.90,409.03 L205.40,409.41 L205.90,409.82 L206.40,410.25 L206.90,410.71 L207.40,411.20 L207.90,411.71 L208.40,412.25 L208.90,412.82 L209.40,413.42 L209.90,414.04 L210.40,414.68 L210.90,415.36 L211.40,416.05 L211.90,416.78 L212.40,417.52 L212.90,418.30 L213.40,419.09 L213.90,419.90 L214.40,420.73 L214.90,421.57 L215.40,422.43 L215.90,423.30 L216.40,424.18 L216.90,425.06 L217.40,425.96 L217.90,426.85 L218.40,427.75 L218.90,428.65 L219.40,429.55 L219.90,430.46 L220.40,431.37 L220.90,432.28 L221.40,433.19 L221.90,434.11 L222.40,435.03 L222.90,435.95 L223.40,436.88 L223.90,437.81 L224.40,438.75 L224.90,439.69 L225.40,440.63 L225.90,441.58 L226.40,442.53 L226.90,443.49 L227.40,444.45 L227.90,445.41 L228.40,446.38 L228.90,447.35 L229.40,448.33 L229.90,449.31 L230.40,450.29 L230.90,451.27 L231.40,452.26 L231.90,453.25 L232.40,454.23 L232.90,455.22 L233.40,456.21 L233.90,457.20 L234.40,458.18 L234.90,459.17 L235.40,460.16 L235.90,461.14 L236.40,462.12 L236.90,463.11 L237.40,464.09 L237.90,465.07 L238.40,466.05 L238.90,467.03 L239.40,468.02 L239.90,469.00 L240.40,469.99 L240.90,470.97 L241.40,471.96 L241.90,472.95 L242.40,473.95 L242.90,474.94 L243.40,475.93 L243.90,476.93 L244.40,477.92 L244.90,478.91 L245.40,479.89 L245.90,480.88 L246.40,481.85 L246.90,482.82 L247.40,483.78 L247.90,484.73 L248.40,485.68 L248.90,486.61 L249.40,487.54 L249.90,488.46 L250.40,489.37 L250.90,490.27 L251.40,491.17 L251.90,492.06 L252.40,492.94 L252.90,493.82 L253.40,494.70 L253.90,495.57 L254.40,496.43 L254.90,497.30 L255.40,498.16 L255.90,499.01 L256.40,499.87 L256.90,500.72 L257.40,501.56 L257.90,502.40 L258.40,503.24 L258.90,504.07 L259.40,504.89 L259.90,505.71 L260.40,506.52 L260.90,507.33 L261.40,508.13 L261.90,508.92 L262.40,509.71 L262.90,510.49 L263.40,511.26 L263.90,512.02 L264.40,512.78 L264.90,513.53 L265.40,514.28 L265.90,515.02 L266.40,515.74 L266.90,516.46 L267.40,517.17 L267.90,517.87 L268.40,518.55 L268.90,519.23 L269.40,519.89 L269.90,520.54 L270.40,521.18 L270.90,521.81 L271.40,522.42 L271.90,523.03 L272.40,523.62 L272.90,524.20 L273.40,524.78 L273.90,525.34 L274.40,525.90 L274.90,526.44 L275.40,526.98 L275.90,527.51 L276.40,528.04 L276.90,528.55 L277.40,529.06 L277.90,529.56 L278.40,530.04 L278.90,530.53 L279.40,531.00 L279.90,531.46 L280.40,531.92 L280.90,532.36 L281.40,532.80 L281.90,533.23 L282.40,533.65 L282.90,534.06 L283.40,534.46 L283.90,534.86 L284.40,535.25 L284.90,535.63 L285.40,536.01 L285.90,536.38 L286.40,536.75 L286.90,537.11 L287.40,537.46 L287.90,537.81 L288.40,538.16 L288.90,538.50 L289.40,538.84 L289.90,539.17 L290.40,539.49 L290.90,539.81 L291.40,540.13 L291.90,540.44 L292.40,540.75 L292.90,541.05 L293.40,541.34 L293.90,541.63 L294.40,541.92 L294.90,542.20 L295.40,542.47 L295.90,542.74 L296.40,543.00 L296.90,543.26 L297.40,543.51 L297.90,543.76 L298.40,544.00 L298.90,544.24 L299.40,544.47 L299.90,544.70 L300.40,544.92 L300.90,545.14 L301.40,545.36 L301.90,545.57 L302.40,545.77 L302.90,545.98 L303.40,546.18 L303.90,546.37 L304.40,546.56 L304.90,546.75 L305.40,546.93 L305.90,547.11 L306.40,547.29 L306.90,547.46 L307.40,547.63 L307.90,547.79 L308.40,547.94 L308.90,548.09 L309.40,548.24 L309.90,548.38 L310.40,548.52 L310.90,548.65 L311.40,548.77 L311.90,548.90 L312.40,549.01 L312.90,549.12 L313.40,549.23 L313.90,549.34 L314.40,549.44 L314.90,549.54 L315.40,549.63 L315.90,549.72 L316.40,549.81 L316.90,549.90 L317.40,549.99 L317.90,550.07 L318.40,550.15 L318.90,550.22 L319.40,550.30 L319.90,550.37 L320.40,550.44 L320.90,550.51 L321.40,550.57 L321.90,550.64 L322.40,550.70 L322.90,550.75 L323.40,550.81 L323.90,550.87 L324.40,550.92 L324.90,550.97 L325.40,551.02 L325.90,551.07 L326.40,551.12 L326.90,551.16 L327.40,551.21 L327.90,551.25 L328.40,551.30 L328.90,551.34 L329.40,551.38 L329.90,551.43 L330.40,551.47 L330.90,551.51 L331.40,551.54 L331.90,551.58 L332.40,551.62 L332.90,551.65 L333.40,551.68 L333.90,551.72 L334.40,551.75 L334.90,551.77 L335.40,551.80 L335.90,551.82 L336.40,551.84 L336.90,551.86 L337.40,551.88 L337.90,551.89 L338.40,551.90 L338.90,551.91 L339.40,551.92 L339.90,551.93 L340.40,551.94 L340.90,551.94 L341.40,551.94 L341.90,551.95 L342.40,551.95 L342.90,551.95 L343.40,551.95 L343.90,551.95 L344.40,551.95 L344.90,551.95 L345.40,551.95 L345.90,551.95 L346.40,551.95 L346.90,551.95 L347.40,551.95 L347.90,551.95 L348.40,551.95 L348.90,551.95 L349.40,551.95 L349.90,551.95 L350.40,551.95 L350.90,551.95 L351.40,551.95 L351.90,551.95 L352.40,551.95 L352.90,551.95 L353.40,551.95 L353.90,551.95 L354.40,551.95 L354.90,551.95 L355.40,551.95 L355.90,551.95 L356.40,551.95 L356.90,551.95 L357.40,551.95 L357.90,551.95 L358.40,551.95 L358.90,551.95 L359.40,551.95 L359.90,551.95 L360.40,551.95 L360.90,551.95 L361.40,551.95 L361.90,551.95 L362.40,551.95 L362.90,551.95 L363.40,551.95 L363.90,551.95 L364.40,551.95 L364.90,551.95 L365.40,551.95 L365.90,551.95 L366.40,551.95 L366.90,551.95 L367.40,551.95 L367.90,551.95 L368.40,551.95 L368.90,551.95 L369.40,551.95 L369.90,551.95 L370.40,551.95 L370.90,551.95 L371.40,551.95 L371.90,551.95 L372.40,551.95 L372.90,551.95 L373.40,551.95 L373.90,551.95 L374.40,551.95 L374.90,551.95 L375.40,551.95 L375.90,551.95 L376.40,551.95 L376.40,551.95 L375.90,551.95 L375.40,551.95 L374.90,551.95 L374.40,551.95 L373.90,551.95 L373.40,551.95 L372.90,551.95 L372.40,551.95 L371.90,551.95 L371.40,551.95 L370.90,551.95 L370.40,551.95 L369.90,551.95 L369.40,551.95 L368.90,551.95 L368.40,551.95 L367.90,551.95 L367.40,551.95 L366.90,551.95 L366.40,551.95 L365.90,551.95 L365.40,551.95 L364.90,551.95 L364.40,551.95 L363.90,551.95 L363.40,551.95 L362.90,551.95 L362.40,551.95 L361.90,551.95 L361.40,551.95 L360.90,551.95 L360.40,551.95 L359.90,551.95 L359.40,551.95 L358.90,551.95 L358.40,551.95 L357.90,551.95 L357.40,551.95 L356.90,551.95 L356.40,551.95 L355.90,551.95 L355.40,551.95 L354.90,551.95 L354.40,551.95 L353.90,551.95 L353.40,551.95 L352.90,551.95 L352.40,551.95 L351.90,551.95 L351.40,551.95 L350.90,551.95 L350.40,551.95 L349.90,551.95 L349.40,551.95 L348.90,551.95 L348.40,551.95 L347.90,551.95 L347.40,551.95 L346.90,551.95 L346.40,551.95 L345.90,551.95 L345.40,551.95 L344.90,551.95 L344.40,551.95 L343.90,551.95 L343.40,551.95 L342.90,551.95 L342.40,551.95 L341.90,551.95 L341.40,551.95 L340.90,551.95 L340.40,551.95 L339.90,551.95 L339.40,551.95 L338.90,551.95 L338.40,551.95 L337.90,551.95 L337.40,551.95 L336.90,551.95 L336.40,551.95 L335.90,551.95 L335.40,551.95 L334.90,551.95 L334.40,551.95 L333.90,551.95 L333.40,551.95 L332.90,551.95 L332.40,551.95 L331.90,551.95 L331.40,551.95 L330.90,551.95 L330.40,551.95 L329.90,551.95 L329.40,551.95 L328.90,551.95 L328.40,551.95 L327.90,551.95 L327.40,551.95 L326.90,551.95 L326.40,551.95 L325.90,551.95 L325.40,551.95 L324.90,551.95 L324.40,551.95 L323.90,551.95 L323.40,551.95 L322.90,551.95 L322.40,551.95 L321.90,551.95 L321.40,551.95 L320.90,551.95 L320.40,551.95 L319.90,551.95 L319.40,551.95 L318.90,551.95 L318.40,551.95 L317.90,551.95 L317.40,551.95 L316.90,551.95 L316.40,551.95 L315.90,551.95 L315.40,551.95 L314.90,551.95 L314.40,551.95 L313.90,551.95 L313.40,551.95 L312.90,551.95 L312.40,551.95 L311.90,551.95 L311.40,551.95 L310.90,551.95 L310.40,551.95 L309.90,551.95 L309.40,551.95 L308.90,551.95 L308.40,551.95 L307.90,551.95 L307.40,551.95 L306.90,551.95 L306.40,551.95 L305.90,551.95 L305.40,551.95 L304.90,551.95 L304.40,551.95 L303.90,551.95 L303.40,551.94 L302.90,551.94 L302.40,551.94 L301.90,551.93 L301.40,551.92 L300.90,551.91 L300.40,551.89 L299.90,551.86 L299.40,551.83 L298.90,551.80 L298.40,551.76 L297.90,551.70 L297.40,551.64 L296.90,551.58 L296.40,551.50 L295.90,551.42 L295.40,551.33 L294.90,551.23 L294.40,551.12 L293.90,551.01 L293.40,550.90 L292.90,550.77 L292.40,550.65 L291.90,550.52 L291.40,550.38 L290.90,550.24 L290.40,550.09 L289.90,549.94 L289.40,549.78 L288.90,549.62 L288.40,549.44 L287.90,549.27 L287.40,549.08 L286.90,548.88 L286.40,548.68 L285.90,548.47 L285.40,548.25 L284.90,548.02 L284.40,547.79 L283.90,547.55 L283.40,547.30 L282.90,547.05 L282.40,546.79 L281.90,546.52 L281.40,546.25 L280.90,545.98 L280.40,545.70 L279.90,545.41 L279.40,545.12 L278.90,544.82 L278.40,544.51 L277.90,544.20 L277.40,543.89 L276.90,543.56 L276.40,543.23 L275.90,542.89 L275.40,542.55 L274.90,542.19 L274.40,541.83 L273.90,541.46 L273.40,541.08 L272.90,540.69 L272.40,540.30 L271.90,539.89 L271.40,539.48 L270.90,539.06 L270.40,538.63 L269.90,538.19 L269.40,537.73 L268.90,537.27 L268.40,536.80 L267.90,536.32 L267.40,535.82 L266.90,535.31 L266.40,534.79 L265.90,534.25 L265.40,533.70 L264.90,533.13 L264.40,532.54 L263.90,531.94 L263.40,531.32 L262.90,530.69 L262.40,530.04 L261.90,529.37 L261.40,528.70 L260.90,528.01 L260.40,527.30 L259.90,526.59 L259.40,525.87 L258.90,525.14 L258.40,524.40 L257.90,523.66 L257.40,522.90 L256.90,522.14 L256.40,521.37 L255.90,520.59 L255.40,519.81 L254.90,519.01 L254.40,518.21 L253.90,517.39 L253.40,516.57 L252.90,515.74 L252.40,514.89 L251.90,514.04 L251.40,513.19 L250.90,512.32 L250.40,511.44 L249.90,510.56 L249.40,509.66 L248.90,508.76 L248.40,507.85 L247.90,506.93 L247.40,505.99 L246.90,505.05 L246.40,504.10 L245.90,503.14 L245.40,502.16 L244.90,501.17 L244.40,500.17 L243.90,499.15 L243.40,498.12 L242.90,497.08 L242.40,496.02 L241.90,494.95 L241.40,493.87 L240.90,492.78 L240.40,491.69 L239.90,490.59 L239.40,489.48 L238.90,488.38 L238.40,487.28 L237.90,486.18 L237.40,485.08 L236.90,484.00 L236.40,482.92 L235.90,481.86 L235.40,480.80 L234.90,479.76 L234.40,478.73 L233.90,477.71 L233.40,476.71 L232.90,475.73 L232.40,474.77 L231.90,473.82 L231.40,472.89 L230.90,471.98 L230.40,471.09 L229.90,470.22 L229.40,469.36 L228.90,468.52 L228.40,467.69 L227.90,466.89 L227.40,466.09 L226.90,465.32 L226.40,464.55 L225.90,463.80 L225.40,463.07 L224.90,462.34 L224.40,461.63 L223.90,460.93 L223.40,460.24 L222.90,459.55 L222.40,458.88 L221.90,458.21 L221.40,457.54 L220.90,456.88 L220.40,456.22 L219.90,455.57 L219.40,454.92 L218.90,454.27 L218.40,453.63 L217.90,452.99 L217.40,452.35 L216.90,451.72 L216.40,451.10 L215.90,450.48 L215.40,449.86 L214.90,449.25 L214.40,448.65 L213.90,448.06 L213.40,447.47 L212.90,446.90 L212.40,446.33 L211.90,445.76 L211.40,445.21 L210.90,444.66 L210.40,444.13 L209.90,443.60 L209.40,443.07 L208.90,442.56 L208.40,442.06 L207.90,441.56 L207.40,441.08 L206.90,440.61 L206.40,440.17 L205.90,439.74 L205.40,439.34 L204.90,438.97 L204.40,438.63 L203.90,438.33 L203.40,438.06 L202.90,437.84 L202.40,437.66 L201.90,437.52 L201.40,437.42 L200.90,437.37 L200.40,437.36 L199.90,437.39 L199.40,437.46 L198.90,437.57 L198.40,437.71 L197.90,437.89 L197.40,438.11 L196.90,438.35 L196.40,438.63 L195.90,438.94 L195.40,439.28 L194.90,439.66 L194.40,440.07 L193.90,440.51 L193.40,440.99 L192.90,441.52 L192.40,442.08 L191.90,442.70 L191.40,443.36 L190.90,444.08 L190.40,444.85 L189.90,445.67 L189.40,446.55 L188.90,447.48 L188.40,448.46 L187.90,449.48 L187.40,450.54 L186.90,451.62 L186.40,452.72 L185.90,453.84 L185.40,454.95 L184.90,456.06 L184.40,457.17 L183.90,458.25 L183.40,459.33 L182.90,460.38 L182.40,461.42 L181.90,462.45 L181.40,463.46 L180.90,464.46 L180.40,465.45 L179.90,466.43 L179.40,467.42 L178.90,468.39 L178.40,469.37 L177.90,470.35 L177.40,471.32 L176.90,472.29 L176.40,473.25 L175.90,474.20 L175.40,475.13 L174.90,476.04 L174.40,476.93 L173.90,477.78 L173.40,478.60 L172.90,479.38 L172.40,480.13 L171.90,480.84 L171.40,481.52 L170.90,482.16 L170.40,482.77 L169.90,483.36 L169.40,483.93 L168.90,484.48 L168.40,485.01 L167.90,485.53 L167.40,486.03 L166.90,486.52 L166.40,486.99 L165.90,487.45 L165.40,487.89 L164.90,488.32 L164.40,488.73 L163.90,489.13 L163.40,489.51 L162.90,489.90 L162.40,490.27 L161.90,490.65 L161.40,491.03 L160.90,491.42 L160.40,491.81 L159.90,492.22 L159.40,492.65 L158.90,493.09 L158.40,493.55 L157.90,494.03 L157.40,494.53 L156.90,495.04 L156.40,495.56 L155.90,496.10 L155.40,496.66 L154.90,497.23 L154.40,497.81 L153.90,498.40 L153.40,499.00 L152.90,499.60 L152.40,500.22 L151.90,500.85 L151.40,501.49 L150.90,502.14 L150.40,502.80 L149.90,503.46 L149.40,504.14 L148.90,504.82 L148.40,505.51 L147.90,506.20 L147.40,506.89 L146.90,507.59 L146.40,508.28 L145.90,508.97 L145.40,509.66 L144.90,510.34 L144.40,511.02 L143.90,511.69 L143.40,512.35 L142.90,513.00 L142.40,513.64 L141.90,514.28 L141.40,514.90 L140.90,515.52 L140.40,516.14 L139.90,516.75 L139.40,517.35 L138.90,517.95 L138.40,518.55 L137.90,519.15 L137.40,519.74 L136.90,520.33 L136.40,520.93 L135.90,521.52 L135.40,522.11 L134.90,522.70 L134.40,523.29 L133.90,523.89 L133.40,524.48 L132.90,525.07 L132.40,525.66 L131.90,526.26 L131.40,526.85 L130.90,527.45 L130.40,528.05 L129.90,528.65 L129.40,529.26 L128.90,529.87 L128.40,530.48 L127.90,531.11 L127.40,531.73 L126.90,532.37 L126.40,533.01 L125.90,533.65 L125.40,534.31 L124.90,534.97 L124.40,535.63 L123.90,536.29 L123.40,536.95 L122.90,537.61 L122.40,538.27 L121.90,538.91 L121.40,539.54 L120.90,540.16 L120.40,540.76 L119.90,541.35 L119.40,541.92 L118.90,542.46 L118.40,542.99 L117.90,543.50 L117.40,543.99 L116.90,544.46 L116.40,544.92 L115.90,545.35 L115.40,545.78 L114.90,546.18 L114.40,546.57 L113.90,546.95 L113.40,547.31 L112.90,547.66 L112.40,548.00 L111.90,548.32 L111.40,548.62 L110.90,548.91 L110.40,549.19 L109.90,549.46 L109.40,549.71 L108.90,549.94 L108.40,550.16 L107.90,550.37 L107.40,550.57 L106.90,550.74 L106.40,550.91 L105.90,551.06 L105.40,551.19 L104.90,551.32 L104.40,551.42 L103.90,551.52 L103.40,551.60 L102.90,551.67 L102.40,551.73 L101.90,551.78 L101.40,551.82 L100.90,551.86 L100.40,551.88 L99.90,551.90 L99.40,551.92 L98.90,551.93 L98.40,551.94 L97.90,551.94 L97.40,551.94 L96.90,551.95 L96.40,551.95 L95.90,551.95 L95.40,551.95 L94.90,551.95 L94.40,551.95 L93.90,551.95 L93.40,551.95 L92.90,551.95 L92.40,551.95 L91.90,551.95 L91.40,551.95 L90.90,551.95 L90.40,551.95 L89.90,551.95 L89.40,551.95 L88.90,551.95 L88.40,551.95 L87.90,551.95 L87.40,551.95 L86.90,551.95 L86.40,551.95 L85.90,551.95 L85.40,551.95 L84.90,551.95 L84.40,551.95 L83.90,551.95 L83.40,551.95 L82.90,551.95 L82.40,551.95 L81.90,551.95 L81.40,551.95 L80.90,551.95 L80.40,551.95 L79.90,551.95 L79.40,551.95 L78.90,551.95 L78.40,551.95 L77.90,551.95 L77.40,551.95 L76.90,551.95 L76.40,551.95 L75.90,551.95 L75.40,551.95 L74.90,551.95 L74.40,551.95 L73.90,551.95 L73.40,551.95Z" fill="#cce8f8"/>
<path d="M73.40,551.95 L73.90,551.95 L74.40,551.95 L74.90,551.95 L75.40,551.95 L75.90,551.95 L76.40,551.95 L76.90,551.95 L77.40,551.95 L77.90,551.95 L78.40,551.95 L78.90,551.95 L79.40,551.95 L79.90,551.95 L80.40,551.95 L80.90,551.95 L81.40,551.95 L81.90,551.94 L82.40,551.94 L82.90,551.94 L83.40,551.93 L83.90,551.92 L84.40,551.91 L84.90,551.90 L85.40,551.88 L85.90,551.86 L86.40,551.83 L86.90,551.80 L87.40,551.76 L87.90,551.71 L88.40,551.67 L88.90,551.61 L89.40,551.55 L89.90,551.49 L90.40,551.42 L90.90,551.35 L91.40,551.27 L91.90,551.19 L92.40,551.10 L92.90,551.01 L93.40,550.91 L93.90,550.81 L94.40,550.70 L94.90,550.59 L95.40,550.47 L95.90,550.34 L96.40,550.20 L96.90,550.06 L97.40,549.92 L97.90,549.76 L98.40,549.60 L98.90,549.43 L99.40,549.26 L99.90,549.08 L100.40,548.90 L100.90,548.70 L101.40,548.50 L101.90,548.30 L102.40,548.08 L102.90,547.86 L103.40,547.63 L103.90,547.39 L104.40,547.14 L104.90,546.89 L105.40,546.62 L105.90,546.34 L106.40,546.06 L106.90,545.76 L107.40,545.45 L107.90,545.13 L108.40,544.80 L108.90,544.45 L109.40,544.09 L109.90,543.72 L110.40,543.33 L110.90,542.93 L111.40,542.51 L111.90,542.07 L112.40,541.62 L112.90,541.16 L113.40,540.68 L113.90,540.18 L114.40,539.68 L114.90,539.16 L115.40,538.64 L115.90,538.10 L116.40,537.56 L116.90,537.01 L117.40,536.45 L117.90,535.89 L118.40,535.32 L118.90,534.75 L119.40,534.16 L119.90,533.58 L120.40,532.98 L120.90,532.38 L121.40,531.78 L121.90,531.16 L122.40,530.54 L122.90,529.92 L123.40,529.29 L123.90,528.65 L124.40,528.01 L124.90,527.36 L125.40,526.71 L125.90,526.05 L126.40,525.38 L126.90,524.71 L127.40,524.04 L127.90,523.36 L128.40,522.67 L128.90,521.98 L129.40,521.29 L129.90,520.59 L130.40,519.89 L130.90,519.19 L131.40,518.49 L131.90,517.79 L132.40,517.09 L132.90,516.39 L133.40,515.70 L133.90,515.01 L134.40,514.32 L134.90,513.64 L135.40,512.97 L135.90,512.30 L136.40,511.63 L136.90,510.97 L137.40,510.31 L137.90,509.66 L138.40,509.01 L138.90,508.36 L139.40,507.71 L139.90,507.06 L140.40,506.40 L140.90,505.75 L141.40,505.09 L141.90,504.43 L142.40,503.77 L142.90,503.10 L143.40,502.42 L143.90,501.74 L144.40,501.06 L144.90,500.37 L145.40,499.68 L145.90,498.98 L146.40,498.28 L146.90,497.59 L147.40,496.89 L147.90,496.20 L148.40,495.51 L148.90,494.82 L149.40,494.15 L149.90,493.48 L150.40,492.81 L150.90,492.16 L151.40,491.51 L151.90,490.88 L152.40,490.25 L152.90,489.63 L153.40,489.03 L153.90,488.43 L154.40,487.84 L154.90,487.26 L155.40,486.69 L155.90,486.14 L156.40,485.60 L156.90,485.07 L157.40,484.56 L157.90,484.06 L158.40,483.58 L158.90,483.12 L159.40,482.68 L159.90,482.25 L160.40,481.84 L160.90,481.44 L161.40,481.06 L161.90,480.68 L162.40,480.32 L162.90,479.96 L163.40,479.60 L163.90,479.24 L164.40,478.87 L164.90,478.50 L165.40,478.11 L165.90,477.72 L166.40,477.30 L166.90,476.87 L167.40,476.42 L167.90,475.95 L168.40,475.45 L168.90,474.92 L169.40,474.37 L169.90,473.78 L170.40,473.16 L170.90,472.51 L171.40,471.83 L171.90,471.11 L172.40,470.35 L172.90,469.56 L173.40,468.73 L173.90,467.87 L174.40,466.98 L174.90,466.05 L175.40,465.10 L175.90,464.12 L176.40,463.12 L176.90,462.11 L177.40,461.08 L177.90,460.04 L178.40,458.99 L178.90,457.92 L179.40,456.85 L179.90,455.78 L180.40,454.69 L180.90,453.59 L181.40,452.49 L181.90,451.37 L182.40,450.24 L182.90,449.10 L183.40,447.94 L183.90,446.77 L184.40,445.59 L184.90,444.40 L185.40,443.21 L185.90,442.01 L186.40,440.81 L186.90,439.62 L187.40,438.45 L187.90,437.30 L188.40,436.18 L188.90,435.10 L189.40,434.05 L189.90,433.05 L190.40,432.10 L190.90,431.19 L191.40,430.33 L191.90,429.52 L192.40,428.76 L192.90,428.05 L193.40,427.38 L193.90,426.76 L194.40,426.18 L194.90,425.64 L195.40,425.14 L195.90,424.69 L196.40,424.27 L196.90,423.89 L197.40,423.56 L197.90,423.26 L198.40,423.01 L198.90,422.80 L199.40,422.64 L199.90,422.52 L200.40,422.45 L200.90,422.42 L201.40,422.44 L201.90,422.50 L202.40,422.60 L202.90,422.74 L203.40,422.91 L203.90,423.12 L204.40,423.35 L204.90,423.62 L205.40,423.91 L205.90,424.23 L206.40,424.58 L206.90,424.96 L207.40,425.36 L207.90,425.79 L208.40,426.24 L208.90,426.72 L209.40,427.22 L209.90,427.74 L210.40,428.28 L210.90,428.83 L211.40,429.40 L211.90,429.98 L212.40,430.58 L212.90,431.18 L213.40,431.80 L213.90,432.42 L214.40,433.06 L214.90,433.70 L215.40,434.36 L215.90,435.02 L216.40,435.70 L216.90,436.39 L217.40,437.08 L217.90,437.79 L218.40,438.51 L218.90,439.24 L219.40,439.98 L219.90,440.74 L220.40,441.50 L220.90,442.28 L221.40,443.07 L221.90,443.87 L222.40,444.69 L222.90,445.52 L223.40,446.36 L223.90,447.21 L224.40,448.07 L224.90,448.94 L225.40,449.83 L225.90,450.72 L226.40,451.62 L226.90,452.54 L227.40,453.46 L227.90,454.38 L228.40,455.32 L228.90,456.27 L229.40,457.22 L229.90,458.18 L230.40,459.15 L230.90,460.13 L231.40,461.11 L231.90,462.10 L232.40,463.10 L232.90,464.10 L233.40,465.11 L233.90,466.12 L234.40,467.13 L234.90,468.15 L235.40,469.16 L235.90,470.18 L236.40,471.20 L236.90,472.22 L237.40,473.23 L237.90,474.25 L238.40,475.27 L238.90,476.28 L239.40,477.30 L239.90,478.31 L240.40,479.33 L240.90,480.34 L241.40,481.35 L241.90,482.36 L242.40,483.36 L242.90,484.37 L243.40,485.36 L243.90,486.36 L244.40,487.35 L244.90,488.33 L245.40,489.31 L245.90,490.29 L246.40,491.26 L246.90,492.22 L247.40,493.18 L247.90,494.14 L248.40,495.09 L248.90,496.04 L249.40,496.98 L249.90,497.91 L250.40,498.85 L250.90,499.77 L251.40,500.70 L251.90,501.62 L252.40,502.53 L252.90,503.44 L253.40,504.35 L253.90,505.25 L254.40,506.15 L254.90,507.04 L255.40,507.93 L255.90,508.81 L256.40,509.69 L256.90,510.57 L257.40,511.43 L257.90,512.29 L258.40,513.14 L258.90,513.98 L259.40,514.81 L259.90,515.62 L260.40,516.43 L260.90,517.21 L261.40,517.99 L261.90,518.75 L262.40,519.50 L262.90,520.23 L263.40,520.95 L263.90,521.66 L264.40,522.36 L264.90,523.05 L265.40,523.73 L265.90,524.39 L266.40,525.05 L266.90,525.70 L267.40,526.33 L267.90,526.96 L268.40,527.58 L268.90,528.18 L269.40,528.78 L269.90,529.36 L270.40,529.94 L270.90,530.50 L271.40,531.06 L271.90,531.60 L272.40,532.13 L272.90,532.65 L273.40,533.16 L273.90,533.67 L274.40,534.16 L274.90,534.64 L275.40,535.11 L275.90,535.57 L276.40,536.02 L276.90,536.46 L277.40,536.89 L277.90,537.31 L278.40,537.72 L278.90,538.12 L279.40,538.52 L279.90,538.90 L280.40,539.27 L280.90,539.63 L281.40,539.98 L281.90,540.32 L282.40,540.65 L282.90,540.98 L283.40,541.29 L283.90,541.60 L284.40,541.89 L284.90,542.18 L285.40,542.47 L285.90,542.74 L286.40,543.01 L286.90,543.27 L287.40,543.52 L287.90,543.77 L288.40,544.01 L288.90,544.25 L289.40,544.48 L289.90,544.70 L290.40,544.92 L290.90,545.14 L291.40,545.35 L291.90,545.55 L292.40,545.75 L292.90,545.95 L293.40,546.14 L293.90,546.32 L294.40,546.51 L294.90,546.68 L295.40,546.86 L295.90,547.03 L296.40,547.19 L296.90,547.35 L297.40,547.50 L297.90,547.65 L298.40,547.80 L298.90,547.94 L299.40,548.07 L299.90,548.20 L300.40,548.33 L300.90,548.45 L301.40,548.57 L301.90,548.68 L302.40,548.80 L302.90,548.91 L303.40,549.01 L303.90,549.12 L304.40,549.22 L304.90,549.32 L305.40,549.41 L305.90,549.51 L306.40,549.60 L306.90,549.69 L307.40,549.77 L307.90,549.86 L308.40,549.94 L308.90,550.01 L309.40,550.09 L309.90,550.16 L310.40,550.23 L310.90,550.30 L311.40,550.36 L311.90,550.42 L312.40,550.48 L312.90,550.54 L313.40,550.59 L313.90,550.64 L314.40,550.70 L314.90,550.74 L315.40,550.79 L315.90,550.84 L316.40,550.88 L316.90,550.93 L317.40,550.97 L317.90,551.01 L318.40,551.05 L318.90,551.09 L319.40,551.13 L319.90,551.16 L320.40,551.20 L320.90,551.23 L321.40,551.26 L321.90,551.29 L322.40,551.32 L322.90,551.35 L323.40,551.38 L323.90,551.41 L324.40,551.43 L324.90,551.46 L325.40,551.49 L325.90,551.51 L326.40,551.53 L326.90,551.56 L327.40,551.58 L327.90,551.60 L328.40,551.62 L328.90,551.65 L329.40,551.67 L329.90,551.69 L330.40,551.71 L330.90,551.73 L331.40,551.75 L331.90,551.77 L332.40,551.78 L332.90,551.80 L333.40,551.82 L333.90,551.83 L334.40,551.85 L334.90,551.86 L335.40,551.87 L335.90,551.89 L336.40,551.90 L336.90,551.91 L337.40,551.91 L337.90,551.92 L338.40,551.93 L338.90,551.93 L339.40,551.94 L339.90,551.94 L340.40,551.94 L340.90,551.94 L341.40,551.95 L341.90,551.95 L342.40,551.95 L342.90,551.95 L343.40,551.95 L343.90,551.95 L344.40,551.95 L344.90,551.95 L345.40,551.95 L345.90,551.95 L346.40,551.95 L346.90,551.95 L347.40,551.95 L347.90,551.95 L348.40,551.95 L348.90,551.95 L349.40,551.95 L349.90,551.95 L350.40,551.95 L350.90,551.95 L351.40,551.95 L351.90,551.95 L352.40,551.95 L352.90,551.95 L353.40,551.95 L353.90,551.95 L354.40,551.95 L354.90,551.95 L355.40,551.95 L355.90,551.95 L356.40,551.95 L356.90,551.95 L357.40,551.95 L357.90,551.95 L358.40,551.95 L358.90,551.95 L359.40,551.95 L359.90,551.95 L360.40,551.95 L360.90,551.95 L361.40,551.95 L361.90,551.95 L362.40,551.95 L362.90,551.95 L363.40,551.95 L363.90,551.95 L364.40,551.95 L364.90,551.95 L365.40,551.95 L365.90,551.95 L366.40,551.95 L366.90,551.95 L367.40,551.95 L367.90,551.95 L368.40,551.95 L368.90,551.95 L369.40,551.95 L369.90,551.95 L370.40,551.95 L370.90,551.95 L371.40,551.95 L371.90,551.95 L372.40,551.95 L372.90,551.95 L373.40,551.95 L373.90,551.95 L374.40,551.95 L374.90,551.95 L375.40,551.95 L375.90,551.95 L376.40,551.95" fill="none" stroke="#0072B2" stroke-width="2.75" stroke-linejoin="round" stroke-linecap="square"/>
<path d="M73.40,551.56 L73.90,551.55 L74.40,551.53 L74.90,551.51 L75.40,551.49 L75.90,551.47 L76.40,551.44 L76.90,551.42 L77.40,551.40 L77.90,551.37 L78.40,551.35 L78.90,551.32 L79.40,551.29 L79.90,551.26 L80.40,551.23 L80.90,551.20 L81.40,551.17 L81.90,551.13 L82.40,551.10 L82.90,551.06 L83.40,551.02 L83.90,550.98 L84.40,550.94 L84.90,550.90 L85.40,550.85 L85.90,550.81 L86.40,550.76 L86.90,550.71 L87.40,550.66 L87.90,550.60 L88.40,550.55 L88.90,550.49 L89.40,550.43 L89.90,550.37 L90.40,550.30 L90.90,550.24 L91.40,550.17 L91.90,550.10 L92.40,550.03 L92.90,549.95 L93.40,549.87 L93.90,549.79 L94.40,549.70 L94.90,549.62 L95.40,549.53 L95.90,549.43 L96.40,549.34 L96.90,549.24 L97.40,549.14 L97.90,549.03 L98.40,548.92 L98.90,548.81 L99.40,548.69 L99.90,548.57 L100.40,548.45 L100.90,548.32 L101.40,548.19 L101.90,548.05 L102.40,547.91 L102.90,547.77 L103.40,547.62 L103.90,547.46 L104.40,547.31 L104.90,547.14 L105.40,546.98 L105.90,546.80 L106.40,546.63 L106.90,546.44 L107.40,546.25 L107.90,546.06 L108.40,545.86 L108.90,545.66 L109.40,545.45 L109.90,545.23 L110.40,545.01 L110.90,544.78 L111.40,544.55 L111.90,544.31 L112.40,544.06 L112.90,543.81 L113.40,543.55 L113.90,543.28 L114.40,543.01 L114.90,542.73 L115.40,542.44 L115.90,542.15 L116.40,541.84 L116.90,541.54 L117.40,541.22 L117.90,540.89 L118.40,540.56 L118.90,540.22 L119.40,539.87 L119.90,539.52 L120.40,539.15 L120.90,538.78 L121.40,538.40 L121.90,538.01 L122.40,537.61 L122.90,537.20 L123.40,536.79 L123.90,536.36 L124.40,535.93 L124.90,535.49 L125.40,535.03 L125.90,534.57 L126.40,534.10 L126.90,533.62 L127.40,533.13 L127.90,532.63 L128.40,532.12 L128.90,531.60 L129.40,531.07 L129.90,530.54 L130.40,529.99 L130.90,529.43 L131.40,528.86 L131.90,528.28 L132.40,527.69 L132.90,527.09 L133.40,526.48 L133.90,525.86 L134.40,525.23 L134.90,524.59 L135.40,523.94 L135.90,523.28 L136.40,522.61 L136.90,521.93 L137.40,521.24 L137.90,520.54 L138.40,519.82 L138.90,519.10 L139.40,518.37 L139.90,517.63 L140.40,516.87 L140.90,516.11 L141.40,515.34 L141.90,514.55 L142.40,513.76 L142.90,512.96 L143.40,512.14 L143.90,511.32 L144.40,510.49 L144.90,509.65 L145.40,508.80 L145.90,507.94 L146.40,507.07 L146.90,506.19 L147.40,505.31 L147.90,504.41 L148.40,503.51 L148.90,502.59 L149.40,501.67 L149.90,500.75 L150.40,499.81 L150.90,498.87 L151.40,497.92 L151.90,496.96 L152.40,495.99 L152.90,495.02 L153.40,494.04 L153.90,493.06 L154.40,492.07 L154.90,491.07 L155.40,490.07 L155.90,489.07 L156.40,488.06 L156.90,487.04 L157.40,486.02 L157.90,484.99 L158.40,483.97 L158.90,482.94 L159.40,481.90 L159.90,480.86 L160.40,479.82 L160.90,478.78 L161.40,477.74 L161.90,476.69 L162.40,475.65 L162.90,474.60 L163.40,473.56 L163.90,472.51 L164.40,471.46 L164.90,470.42 L165.40,469.38 L165.90,468.33 L166.40,467.29 L166.90,466.26 L167.40,465.22 L167.90,464.19 L168.40,463.16 L168.90,462.14 L169.40,461.12 L169.90,460.10 L170.40,459.09 L170.90,458.09 L171.40,457.09 L171.90,456.10 L172.40,455.12 L172.90,454.15 L173.40,453.18 L173.90,452.22 L174.40,451.27 L174.90,450.33 L175.40,449.39 L175.90,448.47 L176.40,447.56 L176.90,446.66 L177.40,445.77 L177.90,444.89 L178.40,444.03 L178.90,443.18 L179.40,442.34 L179.90,441.51 L180.40,440.70 L180.90,439.90 L181.40,439.11 L181.90,438.35 L182.40,437.59 L182.90,436.85 L183.40,436.13 L183.90,435.43 L184.40,434.74 L184.90,434.07 L185.40,433.41 L185.90,432.77 L186.40,432.16 L186.90,431.56 L187.40,430.97 L187.90,430.41 L188.40,429.87 L188.90,429.35 L189.40,428.84 L189.90,428.36 L190.40,427.90 L190.90,427.45 L191.40,427.03 L191.90,426.63 L192.40,426.25 L192.90,425.90 L193.40,425.56 L193.90,425.25 L194.40,424.95 L194.90,424.68 L195.40,424.44 L195.90,424.21 L196.40,424.01 L196.90,423.83 L197.40,423.67 L197.90,423.54 L198.40,423.43 L198.90,423.34 L199.40,423.28 L199.90,423.23 L200.40,423.22 L200.90,423.22 L201.40,423.25 L201.90,423.30 L202.40,423.37 L202.90,423.47 L203.40,423.59 L203.90,423.73 L204.40,423.90 L204.90,424.08 L205.40,424.30 L205.90,424.53 L206.40,424.78 L206.90,425.06 L207.40,425.36 L207.90,425.69 L208.40,426.03 L208.90,426.40 L209.40,426.78 L209.90,427.19 L210.40,427.62 L210.90,428.07 L211.40,428.54 L211.90,429.03 L212.40,429.54 L212.90,430.07 L213.40,430.62 L213.90,431.19 L214.40,431.78 L214.90,432.39 L215.40,433.02 L215.90,433.66 L216.40,434.32 L216.90,435.00 L217.40,435.69 L217.90,436.41 L218.40,437.13 L218.90,437.88 L219.40,438.64 L219.90,439.41 L220.40,440.20 L220.90,441.01 L221.40,441.82 L221.90,442.66 L222.40,443.50 L222.90,444.36 L223.40,445.23 L223.90,446.11 L224.40,447.00 L224.90,447.91 L225.40,448.82 L225.90,449.75 L226.40,450.68 L226.90,451.63 L227.40,452.58 L227.90,453.55 L228.40,454.52 L228.90,455.50 L229.40,456.48 L229.90,457.47 L230.40,458.47 L230.90,459.48 L231.40,460.49 L231.90,461.51 L232.40,462.53 L232.90,463.55 L233.40,464.58 L233.90,465.62 L234.40,466.65 L234.90,467.69 L235.40,468.73 L235.90,469.77 L236.40,470.82 L236.90,471.86 L237.40,472.91 L237.90,473.96 L238.40,475.00 L238.90,476.05 L239.40,477.09 L239.90,478.14 L240.40,479.18 L240.90,480.22 L241.40,481.26 L241.90,482.30 L242.40,483.33 L242.90,484.36 L243.40,485.39 L243.90,486.41 L244.40,487.43 L244.90,488.44 L245.40,489.45 L245.90,490.46 L246.40,491.46 L246.90,492.45 L247.40,493.44 L247.90,494.42 L248.40,495.39 L248.90,496.36 L249.40,497.33 L249.90,498.28 L250.40,499.23 L250.90,500.17 L251.40,501.10 L251.90,502.03 L252.40,502.94 L252.90,503.85 L253.40,504.75 L253.90,505.65 L254.40,506.53 L254.90,507.40 L255.40,508.27 L255.90,509.12 L256.40,509.97 L256.90,510.81 L257.40,511.64 L257.90,512.46 L258.40,513.26 L258.90,514.06 L259.40,514.85 L259.90,515.63 L260.40,516.40 L260.90,517.16 L261.40,517.91 L261.90,518.65 L262.40,519.38 L262.90,520.10 L263.40,520.81 L263.90,521.50 L264.40,522.19 L264.90,522.87 L265.40,523.54 L265.90,524.19 L266.40,524.84 L266.90,525.48 L267.40,526.10 L267.90,526.72 L268.40,527.32 L268.90,527.92 L269.40,528.50 L269.90,529.08 L270.40,529.64 L270.90,530.20 L271.40,530.74 L271.90,531.28 L272.40,531.80 L272.90,532.32 L273.40,532.82 L273.90,533.32 L274.40,533.81 L274.90,534.28 L275.40,534.75 L275.90,535.21 L276.40,535.66 L276.90,536.10 L277.40,536.53 L277.90,536.95 L278.40,537.36 L278.90,537.76 L279.40,538.16 L279.90,538.55 L280.40,538.92 L280.90,539.29 L281.40,539.65 L281.90,540.01 L282.40,540.35 L282.90,540.69 L283.40,541.02 L283.90,541.34 L284.40,541.65 L284.90,541.96 L285.40,542.26 L285.90,542.55 L286.40,542.84 L286.90,543.11 L287.40,543.38 L287.90,543.65 L288.40,543.91 L288.90,544.16 L289.40,544.40 L289.90,544.64 L290.40,544.87 L290.90,545.10 L291.40,545.31 L291.90,545.53 L292.40,545.74 L292.90,545.94 L293.40,546.14 L293.90,546.33 L294.40,546.51 L294.90,546.69 L295.40,546.87 L295.90,547.04 L296.40,547.21 L296.90,547.37 L297.40,547.52 L297.90,547.67 L298.40,547.82 L298.90,547.97 L299.40,548.10 L299.90,548.24 L300.40,548.37 L300.90,548.50 L301.40,548.62 L301.90,548.74 L302.40,548.85 L302.90,548.96 L303.40,549.07 L303.90,549.18 L304.40,549.28 L304.90,549.38 L305.40,549.47 L305.90,549.56 L306.40,549.65 L306.90,549.74 L307.40,549.82 L307.90,549.90 L308.40,549.98 L308.90,550.05 L309.40,550.13 L309.90,550.20 L310.40,550.26 L310.90,550.33 L311.40,550.39 L311.90,550.45 L312.40,550.51 L312.90,550.57 L313.40,550.62 L313.90,550.68 L314.40,550.73 L314.90,550.78 L315.40,550.82 L315.90,550.87 L316.40,550.91 L316.90,550.96 L317.40,551.00 L317.90,551.04 L318.40,551.07 L318.90,551.11 L319.40,551.15 L319.90,551.18 L320.40,551.21 L320.90,551.24 L321.40,551.27 L321.90,551.30 L322.40,551.33 L322.90,551.36 L323.40,551.38 L323.90,551.41 L324.40,551.43 L324.90,551.45 L325.40,551.47 L325.90,551.50 L326.40,551.52 L326.90,551.53 L327.40,551.55 L327.90,551.57 L328.40,551.59 L328.90,551.60 L329.40,551.62 L329.90,551.63 L330.40,551.65 L330.90,551.66 L331.40,551.68 L331.90,551.69 L332.40,551.70 L332.90,551.71 L333.40,551.72 L333.90,551.73 L334.40,551.74 L334.90,551.75 L335.40,551.76 L335.90,551.77 L336.40,551.78 L336.90,551.79 L337.40,551.80 L337.90,551.80 L338.40,551.81 L338.90,551.82 L339.40,551.82 L339.90,551.83 L340.40,551.84 L340.90,551.84 L341.40,551.85 L341.90,551.85 L342.40,551.86 L342.90,551.86 L343.40,551.87 L343.90,551.87 L344.40,551.87 L344.90,551.88 L345.40,551.88 L345.90,551.88 L346.40,551.89 L346.90,551.89 L347.40,551.89 L347.90,551.90 L348.40,551.90 L348.90,551.90 L349.40,551.91 L349.90,551.91 L350.40,551.91 L350.90,551.91 L351.40,551.91 L351.90,551.92 L352.40,551.92 L352.90,551.92 L353.40,551.92 L353.90,551.92 L354.40,551.92 L354.90,551.93 L355.40,551.93 L355.90,551.93 L356.40,551.93 L356.90,551.93 L357.40,551.93 L357.90,551.93 L358.40,551.93 L358.90,551.93 L359.40,551.94 L359.90,551.94 L360.40,551.94 L360.90,551.94 L361.40,551.94 L361.90,551.94 L362.40,551.94 L362.90,551.94 L363.40,551.94 L363.90,551.94 L364.40,551.94 L364.90,551.94 L365.40,551.94 L365.90,551.94 L366.40,551.94 L366.90,551.94 L367.40,551.94 L367.90,551.94 L368.40,551.94 L368.90,551.95 L369.40,551.95 L369.90,551.95 L370.40,551.95 L370.90,551.95 L371.40,551.95 L371.90,551.95 L372.40,551.95 L372.90,551.95 L373.40,551.95 L373.90,551.95 L374.40,551.95 L374.90,551.95 L375.40,551.95 L375.90,551.95 L376.40,551.95" fill="none" stroke="#E69F00" stroke-width="2.75" stroke-dasharray="9.25 3.98" stroke-linejoin="round"/>
</g>
<rect x="131.2" y="1.75" width="187.5" height="22.65" rx="2.8" ry="2.8" fill="#fff" stroke="#d2d2d2" stroke-width="1.35"/>
<rect x="136.1" y="7.25" width="26.9" height="9.0" fill="#cce8f8"/>
<line x1="134.9" y1="11.8" x2="164.5" y2="11.8" stroke="#0072B2" stroke-width="2.75"/>
<line x1="227.5" y1="11.8" x2="254.7" y2="11.8" stroke="#E69F00" stroke-width="2.75" stroke-dasharray="9.25 3.98"/>
<g font-family="Liberation Serif, serif" fill="#000" text-rendering="geometricPrecision" style="filter:grayscale(1)">
<line x1="62.94" y1="183.80" x2="62.94" y2="189.80" stroke="#000" stroke-width="1.4"/>
<line x1="73.13" y1="183.80" x2="73.13" y2="187.30" stroke="#000" stroke-width="1.1"/>
<line x1="83.32" y1="183.80" x2="83.32" y2="187.30" stroke="#000" stroke-width="1.1"/>
<line x1="93.52" y1="183.80" x2="93.52" y2="187.30" stroke="#000" stroke-width="1.1"/>
<line x1="103.71" y1="183.80" x2="103.71" y2="187.30" stroke="#000" stroke-width="1.1"/>
<line x1="113.90" y1="183.80" x2="113.90" y2="189.80" stroke="#000" stroke-width="1.4"/>
<line x1="124.09" y1="183.80" x2="124.09" y2="187.30" stroke="#000" stroke-width="1.1"/>
<line x1="134.28" y1="183.80" x2="134.28" y2="187.30" stroke="#000" stroke-width="1.1"/>
<line x1="144.48" y1="183.80" x2="144.48" y2="187.30" stroke="#000" stroke-width="1.1"/>
<line x1="154.67" y1="183.80" x2="154.67" y2="187.30" stroke="#000" stroke-width="1.1"/>
<line x1="164.86" y1="183.80" x2="164.86" y2="189.80" stroke="#000" stroke-width="1.4"/>
<line x1="175.05" y1="183.80" x2="175.05" y2="187.30" stroke="#000" stroke-width="1.1"/>
<line x1="185.24" y1="183.80" x2="185.24" y2="187.30" stroke="#000" stroke-width="1.1"/>
<line x1="195.44" y1="183.80" x2="195.44" y2="187.30" stroke="#000" stroke-width="1.1"/>
<line x1="205.63" y1="183.80" x2="205.63" y2="187.30" stroke="#000" stroke-width="1.1"/>
<line x1="215.82" y1="183.80" x2="215.82" y2="189.80" stroke="#000" stroke-width="1.4"/>
<line x1="226.01" y1="183.80" x2="226.01" y2="187.30" stroke="#000" stroke-width="1.1"/>
<line x1="236.20" y1="183.80" x2="236.20" y2="187.30" stroke="#000" stroke-width="1.1"/>
<line x1="246.40" y1="183.80" x2="246.40" y2="187.30" stroke="#000" stroke-width="1.1"/>
<line x1="256.59" y1="183.80" x2="256.59" y2="187.30" stroke="#000" stroke-width="1.1"/>
<line x1="266.78" y1="183.80" x2="266.78" y2="189.80" stroke="#000" stroke-width="1.4"/>
<line x1="276.97" y1="183.80" x2="276.97" y2="187.30" stroke="#000" stroke-width="1.1"/>
<line x1="287.16" y1="183.80" x2="287.16" y2="187.30" stroke="#000" stroke-width="1.1"/>
<line x1="297.36" y1="183.80" x2="297.36" y2="187.30" stroke="#000" stroke-width="1.1"/>
<line x1="307.55" y1="183.80" x2="307.55" y2="187.30" stroke="#000" stroke-width="1.1"/>
<line x1="317.74" y1="183.80" x2="317.74" y2="189.80" stroke="#000" stroke-width="1.4"/>
<line x1="327.93" y1="183.80" x2="327.93" y2="187.30" stroke="#000" stroke-width="1.1"/>
<line x1="338.12" y1="183.80" x2="338.12" y2="187.30" stroke="#000" stroke-width="1.1"/>
<line x1="348.32" y1="183.80" x2="348.32" y2="187.30" stroke="#000" stroke-width="1.1"/>
<line x1="358.51" y1="183.80" x2="358.51" y2="187.30" stroke="#000" stroke-width="1.1"/>
<line x1="368.70" y1="183.80" x2="368.70" y2="189.80" stroke="#000" stroke-width="1.4"/>
<line x1="378.89" y1="183.80" x2="378.89" y2="187.30" stroke="#000" stroke-width="1.1"/>
<line x1="389.08" y1="183.80" x2="389.08" y2="187.30" stroke="#000" stroke-width="1.1"/>
<rect x="49.74" y="200.70" width="8.8" height="0.9" fill="#000"/><text x="59.34" y="204.80" font-size="14" textLength="18.50" lengthAdjust="spacingAndGlyphs">0.3</text>
<rect x="100.70" y="200.70" width="8.8" height="0.9" fill="#000"/><text x="110.30" y="204.80" font-size="14" textLength="18.50" lengthAdjust="spacingAndGlyphs">0.2</text>
<rect x="151.66" y="200.70" width="8.8" height="0.9" fill="#000"/><text x="161.26" y="204.80" font-size="14" textLength="18.50" lengthAdjust="spacingAndGlyphs">0.1</text>
<text x="206.62" y="204.80" font-size="14" textLength="18.50" lengthAdjust="spacingAndGlyphs">0.0</text>
<text x="257.58" y="204.80" font-size="14" textLength="18.50" lengthAdjust="spacingAndGlyphs">0.1</text>
<text x="308.54" y="204.80" font-size="14" textLength="18.50" lengthAdjust="spacingAndGlyphs">0.2</text>
<text x="359.50" y="204.80" font-size="14" textLength="18.50" lengthAdjust="spacingAndGlyphs">0.3</text>
<line x1="52.25" y1="183.80" x2="58.25" y2="183.80" stroke="#000" stroke-width="1.4"/>
<line x1="54.75" y1="172.65" x2="58.25" y2="172.65" stroke="#000" stroke-width="1.1"/>
<line x1="54.75" y1="161.49" x2="58.25" y2="161.49" stroke="#000" stroke-width="1.1"/>
<line x1="54.75" y1="150.34" x2="58.25" y2="150.34" stroke="#000" stroke-width="1.1"/>
<line x1="52.25" y1="139.18" x2="58.25" y2="139.18" stroke="#000" stroke-width="1.4"/>
<line x1="54.75" y1="128.03" x2="58.25" y2="128.03" stroke="#000" stroke-width="1.1"/>
<line x1="54.75" y1="116.87" x2="58.25" y2="116.87" stroke="#000" stroke-width="1.1"/>
<line x1="54.75" y1="105.72" x2="58.25" y2="105.72" stroke="#000" stroke-width="1.1"/>
<line x1="52.25" y1="94.56" x2="58.25" y2="94.56" stroke="#000" stroke-width="1.4"/>
<line x1="54.75" y1="83.41" x2="58.25" y2="83.41" stroke="#000" stroke-width="1.1"/>
<line x1="54.75" y1="72.25" x2="58.25" y2="72.25" stroke="#000" stroke-width="1.1"/>
<line x1="54.75" y1="61.10" x2="58.25" y2="61.10" stroke="#000" stroke-width="1.1"/>
<line x1="52.25" y1="49.94" x2="58.25" y2="49.94" stroke="#000" stroke-width="1.4"/>
<line x1="54.75" y1="38.79" x2="58.25" y2="38.79" stroke="#000" stroke-width="1.1"/>
<text x="39.30" y="188.40" font-size="14" textLength="7.30" lengthAdjust="spacingAndGlyphs">0</text>
<text x="39.30" y="143.78" font-size="14" textLength="7.30" lengthAdjust="spacingAndGlyphs">2</text>
<text x="39.30" y="99.16" font-size="14" textLength="7.30" lengthAdjust="spacingAndGlyphs">4</text>
<text x="39.30" y="54.54" font-size="14" textLength="7.30" lengthAdjust="spacingAndGlyphs">6</text>
<rect x="58.25" y="31.4" width="333.6" height="152.4" fill="none" stroke="#000" stroke-width="1.4"/>
<line x1="64.84" y1="367.90" x2="64.84" y2="371.40" stroke="#000" stroke-width="1.1"/>
<line x1="80.96" y1="367.90" x2="80.96" y2="371.40" stroke="#000" stroke-width="1.1"/>
<line x1="97.08" y1="367.90" x2="97.08" y2="373.90" stroke="#000" stroke-width="1.4"/>
<line x1="113.20" y1="367.90" x2="113.20" y2="371.40" stroke="#000" stroke-width="1.1"/>
<line x1="129.32" y1="367.90" x2="129.32" y2="371.40" stroke="#000" stroke-width="1.1"/>
<line x1="145.44" y1="367.90" x2="145.44" y2="371.40" stroke="#000" stroke-width="1.1"/>
<line x1="161.56" y1="367.90" x2="161.56" y2="373.90" stroke="#000" stroke-width="1.4"/>
<line x1="177.68" y1="367.90" x2="177.68" y2="371.40" stroke="#000" stroke-width="1.1"/>
<line x1="193.80" y1="367.90" x2="193.80" y2="371.40" stroke="#000" stroke-width="1.1"/>
<line x1="209.92" y1="367.90" x2="209.92" y2="371.40" stroke="#000" stroke-width="1.1"/>
<line x1="226.04" y1="367.90" x2="226.04" y2="373.90" stroke="#000" stroke-width="1.4"/>
<line x1="242.16" y1="367.90" x2="242.16" y2="371.40" stroke="#000" stroke-width="1.1"/>
<line x1="258.28" y1="367.90" x2="258.28" y2="371.40" stroke="#000" stroke-width="1.1"/>
<line x1="274.40" y1="367.90" x2="274.40" y2="371.40" stroke="#000" stroke-width="1.1"/>
<line x1="290.52" y1="367.90" x2="290.52" y2="373.90" stroke="#000" stroke-width="1.4"/>
<line x1="306.64" y1="367.90" x2="306.64" y2="371.40" stroke="#000" stroke-width="1.1"/>
<line x1="322.76" y1="367.90" x2="322.76" y2="371.40" stroke="#000" stroke-width="1.1"/>
<line x1="338.88" y1="367.90" x2="338.88" y2="371.40" stroke="#000" stroke-width="1.1"/>
<line x1="355.00" y1="367.90" x2="355.00" y2="373.90" stroke="#000" stroke-width="1.4"/>
<line x1="371.12" y1="367.90" x2="371.12" y2="371.40" stroke="#000" stroke-width="1.1"/>
<line x1="387.24" y1="367.90" x2="387.24" y2="371.40" stroke="#000" stroke-width="1.1"/>
<rect x="83.88" y="384.80" width="8.8" height="0.9" fill="#000"/><text x="93.48" y="388.90" font-size="14" textLength="18.50" lengthAdjust="spacingAndGlyphs">0.4</text>
<rect x="148.36" y="384.80" width="8.8" height="0.9" fill="#000"/><text x="157.96" y="388.90" font-size="14" textLength="18.50" lengthAdjust="spacingAndGlyphs">0.2</text>
<text x="216.84" y="388.90" font-size="14" textLength="18.50" lengthAdjust="spacingAndGlyphs">0.0</text>
<text x="281.32" y="388.90" font-size="14" textLength="18.50" lengthAdjust="spacingAndGlyphs">0.2</text>
<text x="345.80" y="388.90" font-size="14" textLength="18.50" lengthAdjust="spacingAndGlyphs">0.4</text>
<line x1="52.25" y1="367.90" x2="58.25" y2="367.90" stroke="#000" stroke-width="1.4"/>
<line x1="54.75" y1="356.41" x2="58.25" y2="356.41" stroke="#000" stroke-width="1.1"/>
<line x1="54.75" y1="344.92" x2="58.25" y2="344.92" stroke="#000" stroke-width="1.1"/>
<line x1="54.75" y1="333.43" x2="58.25" y2="333.43" stroke="#000" stroke-width="1.1"/>
<line x1="52.25" y1="321.94" x2="58.25" y2="321.94" stroke="#000" stroke-width="1.4"/>
<line x1="54.75" y1="310.45" x2="58.25" y2="310.45" stroke="#000" stroke-width="1.1"/>
<line x1="54.75" y1="298.96" x2="58.25" y2="298.96" stroke="#000" stroke-width="1.1"/>
<line x1="54.75" y1="287.47" x2="58.25" y2="287.47" stroke="#000" stroke-width="1.1"/>
<line x1="52.25" y1="275.98" x2="58.25" y2="275.98" stroke="#000" stroke-width="1.4"/>
<line x1="54.75" y1="264.49" x2="58.25" y2="264.49" stroke="#000" stroke-width="1.1"/>
<line x1="54.75" y1="253.00" x2="58.25" y2="253.00" stroke="#000" stroke-width="1.1"/>
<line x1="54.75" y1="241.51" x2="58.25" y2="241.51" stroke="#000" stroke-width="1.1"/>
<line x1="52.25" y1="230.02" x2="58.25" y2="230.02" stroke="#000" stroke-width="1.4"/>
<line x1="54.75" y1="218.53" x2="58.25" y2="218.53" stroke="#000" stroke-width="1.1"/>
<text x="39.30" y="372.50" font-size="14" textLength="7.30" lengthAdjust="spacingAndGlyphs">0</text>
<text x="39.30" y="326.54" font-size="14" textLength="7.30" lengthAdjust="spacingAndGlyphs">2</text>
<text x="39.30" y="280.58" font-size="14" textLength="7.30" lengthAdjust="spacingAndGlyphs">4</text>
<text x="39.30" y="234.62" font-size="14" textLength="7.30" lengthAdjust="spacingAndGlyphs">6</text>
<rect x="58.25" y="215.7" width="333.6" height="152.2" fill="none" stroke="#000" stroke-width="1.4"/>
<line x1="69.19" y1="551.95" x2="69.19" y2="555.45" stroke="#000" stroke-width="1.1"/>
<line x1="81.81" y1="551.95" x2="81.81" y2="555.45" stroke="#000" stroke-width="1.1"/>
<line x1="94.42" y1="551.95" x2="94.42" y2="555.45" stroke="#000" stroke-width="1.1"/>
<line x1="107.04" y1="551.95" x2="107.04" y2="557.95" stroke="#000" stroke-width="1.4"/>
<line x1="119.66" y1="551.95" x2="119.66" y2="555.45" stroke="#000" stroke-width="1.1"/>
<line x1="132.28" y1="551.95" x2="132.28" y2="555.45" stroke="#000" stroke-width="1.1"/>
<line x1="144.90" y1="551.95" x2="144.90" y2="555.45" stroke="#000" stroke-width="1.1"/>
<line x1="157.52" y1="551.95" x2="157.52" y2="557.95" stroke="#000" stroke-width="1.4"/>
<line x1="170.14" y1="551.95" x2="170.14" y2="555.45" stroke="#000" stroke-width="1.1"/>
<line x1="182.76" y1="551.95" x2="182.76" y2="555.45" stroke="#000" stroke-width="1.1"/>
<line x1="195.38" y1="551.95" x2="195.38" y2="555.45" stroke="#000" stroke-width="1.1"/>
<line x1="208.00" y1="551.95" x2="208.00" y2="557.95" stroke="#000" stroke-width="1.4"/>
<line x1="220.62" y1="551.95" x2="220.62" y2="555.45" stroke="#000" stroke-width="1.1"/>
<line x1="233.24" y1="551.95" x2="233.24" y2="555.45" stroke="#000" stroke-width="1.1"/>
<line x1="245.86" y1="551.95" x2="245.86" y2="555.45" stroke="#000" stroke-width="1.1"/>
<line x1="258.48" y1="551.95" x2="258.48" y2="557.95" stroke="#000" stroke-width="1.4"/>
<line x1="271.10" y1="551.95" x2="271.10" y2="555.45" stroke="#000" stroke-width="1.1"/>
<line x1="283.72" y1="551.95" x2="283.72" y2="555.45" stroke="#000" stroke-width="1.1"/>
<line x1="296.34" y1="551.95" x2="296.34" y2="555.45" stroke="#000" stroke-width="1.1"/>
<line x1="308.96" y1="551.95" x2="308.96" y2="557.95" stroke="#000" stroke-width="1.4"/>
<line x1="321.58" y1="551.95" x2="321.58" y2="555.45" stroke="#000" stroke-width="1.1"/>
<line x1="334.19" y1="551.95" x2="334.19" y2="555.45" stroke="#000" stroke-width="1.1"/>
<line x1="346.81" y1="551.95" x2="346.81" y2="555.45" stroke="#000" stroke-width="1.1"/>
<line x1="359.43" y1="551.95" x2="359.43" y2="557.95" stroke="#000" stroke-width="1.4"/>
<line x1="372.05" y1="551.95" x2="372.05" y2="555.45" stroke="#000" stroke-width="1.1"/>
<line x1="384.67" y1="551.95" x2="384.67" y2="555.45" stroke="#000" stroke-width="1.1"/>
<rect x="93.84" y="568.85" width="8.8" height="0.9" fill="#000"/><text x="103.44" y="572.95" font-size="14" textLength="18.50" lengthAdjust="spacingAndGlyphs">0.4</text>
<rect x="144.32" y="568.85" width="8.8" height="0.9" fill="#000"/><text x="153.92" y="572.95" font-size="14" textLength="18.50" lengthAdjust="spacingAndGlyphs">0.2</text>
<text x="198.80" y="572.95" font-size="14" textLength="18.50" lengthAdjust="spacingAndGlyphs">0.0</text>
<text x="249.28" y="572.95" font-size="14" textLength="18.50" lengthAdjust="spacingAndGlyphs">0.2</text>
<text x="299.76" y="572.95" font-size="14" textLength="18.50" lengthAdjust="spacingAndGlyphs">0.4</text>
<text x="350.23" y="572.95" font-size="14" textLength="18.50" lengthAdjust="spacingAndGlyphs">0.6</text>
<line x1="52.25" y1="551.95" x2="58.25" y2="551.95" stroke="#000" stroke-width="1.4"/>
<line x1="54.75" y1="542.41" x2="58.25" y2="542.41" stroke="#000" stroke-width="1.1"/>
<line x1="54.75" y1="532.88" x2="58.25" y2="532.88" stroke="#000" stroke-width="1.1"/>
<line x1="54.75" y1="523.34" x2="58.25" y2="523.34" stroke="#000" stroke-width="1.1"/>
<line x1="54.75" y1="513.81" x2="58.25" y2="513.81" stroke="#000" stroke-width="1.1"/>
<line x1="52.25" y1="504.27" x2="58.25" y2="504.27" stroke="#000" stroke-width="1.4"/>
<line x1="54.75" y1="494.73" x2="58.25" y2="494.73" stroke="#000" stroke-width="1.1"/>
<line x1="54.75" y1="485.20" x2="58.25" y2="485.20" stroke="#000" stroke-width="1.1"/>
<line x1="54.75" y1="475.66" x2="58.25" y2="475.66" stroke="#000" stroke-width="1.1"/>
<line x1="54.75" y1="466.13" x2="58.25" y2="466.13" stroke="#000" stroke-width="1.1"/>
<line x1="52.25" y1="456.59" x2="58.25" y2="456.59" stroke="#000" stroke-width="1.4"/>
<line x1="54.75" y1="447.05" x2="58.25" y2="447.05" stroke="#000" stroke-width="1.1"/>
<line x1="54.75" y1="437.52" x2="58.25" y2="437.52" stroke="#000" stroke-width="1.1"/>
<line x1="54.75" y1="427.98" x2="58.25" y2="427.98" stroke="#000" stroke-width="1.1"/>
<line x1="54.75" y1="418.45" x2="58.25" y2="418.45" stroke="#000" stroke-width="1.1"/>
<line x1="52.25" y1="408.91" x2="58.25" y2="408.91" stroke="#000" stroke-width="1.4"/>
<text x="39.30" y="556.55" font-size="14" textLength="7.30" lengthAdjust="spacingAndGlyphs">0</text>
<text x="39.30" y="508.87" font-size="14" textLength="7.30" lengthAdjust="spacingAndGlyphs">1</text>
<text x="39.30" y="461.19" font-size="14" textLength="7.30" lengthAdjust="spacingAndGlyphs">2</text>
<text x="39.30" y="413.51" font-size="14" textLength="7.30" lengthAdjust="spacingAndGlyphs">3</text>
<rect x="58.25" y="399.95" width="333.6" height="152.00000000000006" fill="none" stroke="#000" stroke-width="1.4"/>
<text x="65.3" y="48.5" font-size="14.8" font-weight="bold" stroke="#000" stroke-width="0.35" textLength="114.7" lengthAdjust="spacingAndGlyphs">WFI J2033 – 4723</text>
<text x="65.3" y="232.6" font-size="14.8" font-weight="bold" stroke="#000" stroke-width="0.35" textLength="81.4" lengthAdjust="spacingAndGlyphs">B 1608 + 656</text>
<text x="65.3" y="416.8" font-size="14.8" font-weight="bold" stroke="#000" stroke-width="0.35" textLength="99.4" lengthAdjust="spacingAndGlyphs">HE 0435 – 1223</text>
<text transform="translate(26.9,163.15) rotate(-90)" font-size="14.65" textLength="111.1" lengthAdjust="spacingAndGlyphs">Probability density</text>
<text transform="translate(26.9,347.35) rotate(-90)" font-size="14.65" textLength="111.1" lengthAdjust="spacingAndGlyphs">Probability density</text>
<text transform="translate(26.9,531.50) rotate(-90)" font-size="14.65" textLength="111.1" lengthAdjust="spacingAndGlyphs">Probability density</text>
<text x="137" y="593" font-size="14.7" textLength="175" lengthAdjust="spacingAndGlyphs">Residual [relative magnitude]</text>
<text x="174.5" y="16.5" font-size="13" textLength="26.75" lengthAdjust="spacingAndGlyphs">KDE</text>
<text x="265" y="16.5" font-size="13" textLength="48" lengthAdjust="spacingAndGlyphs">Gaussian</text>
</g>
</svg>
</body></html>
